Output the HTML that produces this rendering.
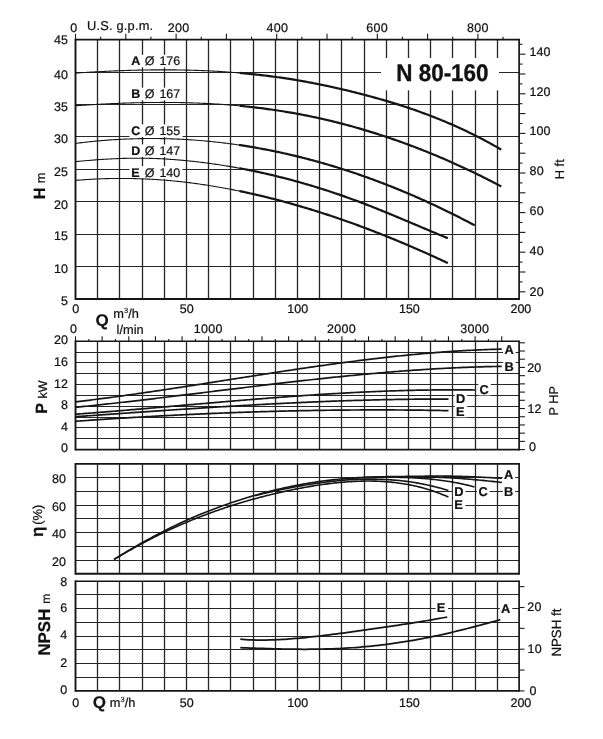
<!DOCTYPE html>
<html><head><meta charset="utf-8"><title>N 80-160</title>
<style>html,body{margin:0;padding:0;background:#fff;}body{width:603px;height:739px;overflow:hidden;font-family:"Liberation Sans",sans-serif;}svg{display:block;}</style>
</head><body>
<svg style="will-change:transform" width="603" height="739" viewBox="0 0 603 739" font-family="Liberation Sans, sans-serif" text-rendering="geometricPrecision">
<rect width="603" height="739" fill="#fff"/>
<line x1="97.50" y1="39.60" x2="97.50" y2="299.00" stroke="#262626" stroke-width="1.3"/>
<line x1="119.50" y1="39.60" x2="119.50" y2="299.00" stroke="#262626" stroke-width="1.3"/>
<line x1="142.50" y1="39.60" x2="142.50" y2="299.00" stroke="#262626" stroke-width="1.3"/>
<line x1="164.50" y1="39.60" x2="164.50" y2="299.00" stroke="#262626" stroke-width="1.3"/>
<line x1="186.50" y1="39.60" x2="186.50" y2="299.00" stroke="#262626" stroke-width="1.3"/>
<line x1="208.50" y1="39.60" x2="208.50" y2="299.00" stroke="#262626" stroke-width="1.3"/>
<line x1="230.50" y1="39.60" x2="230.50" y2="299.00" stroke="#262626" stroke-width="1.3"/>
<line x1="253.50" y1="39.60" x2="253.50" y2="299.00" stroke="#262626" stroke-width="1.3"/>
<line x1="275.50" y1="39.60" x2="275.50" y2="299.00" stroke="#262626" stroke-width="1.3"/>
<line x1="297.50" y1="39.60" x2="297.50" y2="299.00" stroke="#262626" stroke-width="1.3"/>
<line x1="319.50" y1="39.60" x2="319.50" y2="299.00" stroke="#262626" stroke-width="1.3"/>
<line x1="341.50" y1="39.60" x2="341.50" y2="299.00" stroke="#262626" stroke-width="1.3"/>
<line x1="364.50" y1="39.60" x2="364.50" y2="299.00" stroke="#262626" stroke-width="1.3"/>
<line x1="386.50" y1="39.60" x2="386.50" y2="299.00" stroke="#262626" stroke-width="1.3"/>
<line x1="408.50" y1="39.60" x2="408.50" y2="299.00" stroke="#262626" stroke-width="1.3"/>
<line x1="430.50" y1="39.60" x2="430.50" y2="299.00" stroke="#262626" stroke-width="1.3"/>
<line x1="452.50" y1="39.60" x2="452.50" y2="299.00" stroke="#262626" stroke-width="1.3"/>
<line x1="475.50" y1="39.60" x2="475.50" y2="299.00" stroke="#262626" stroke-width="1.3"/>
<line x1="497.50" y1="39.60" x2="497.50" y2="299.00" stroke="#262626" stroke-width="1.3"/>
<line x1="75.50" y1="72.50" x2="519.10" y2="72.50" stroke="#262626" stroke-width="1.1"/>
<line x1="75.50" y1="104.50" x2="519.10" y2="104.50" stroke="#262626" stroke-width="1.1"/>
<line x1="75.50" y1="136.50" x2="519.10" y2="136.50" stroke="#262626" stroke-width="1.1"/>
<line x1="75.50" y1="169.50" x2="519.10" y2="169.50" stroke="#262626" stroke-width="1.1"/>
<line x1="75.50" y1="201.50" x2="519.10" y2="201.50" stroke="#262626" stroke-width="1.1"/>
<line x1="75.50" y1="234.50" x2="519.10" y2="234.50" stroke="#262626" stroke-width="1.1"/>
<line x1="75.50" y1="266.50" x2="519.10" y2="266.50" stroke="#262626" stroke-width="1.1"/>
<rect x="129.50" y="54.80" width="53.00" height="12.60" fill="#fff"/>
<rect x="129.50" y="87.70" width="53.00" height="12.60" fill="#fff"/>
<rect x="129.50" y="124.40" width="53.00" height="12.60" fill="#fff"/>
<rect x="129.50" y="144.40" width="53.00" height="12.60" fill="#fff"/>
<rect x="129.50" y="166.20" width="53.00" height="12.60" fill="#fff"/>
<rect x="381.00" y="58.00" width="118.00" height="32.30" fill="#fff"/>
<path d="M75.50 73.12 L77.14 73.01 L78.79 72.90 L80.43 72.79 L82.08 72.68 L83.72 72.57 L85.36 72.47 L87.01 72.37 L88.65 72.27 L90.30 72.17 L91.94 72.07 L93.58 71.98 L95.23 71.88 L96.87 71.79 L98.52 71.70 L100.16 71.61 L101.80 71.53 L103.45 71.44 L105.09 71.36 L106.74 71.28 L108.38 71.20 L110.02 71.13 L111.67 71.05 L113.31 70.98 L114.96 70.91 L116.60 70.84 L118.24 70.78 L119.89 70.71 L121.53 70.65 L123.18 70.59 L124.82 70.53 L126.46 70.48 L128.11 70.42 L129.75 70.37 L131.40 70.32 L133.04 70.27 L134.68 70.23 L136.33 70.19 L137.97 70.15 L139.62 70.11 L141.26 70.07 L142.90 70.04 L144.55 70.01 L146.19 69.98 L147.84 69.96 L149.48 69.93 L151.12 69.91 L152.77 69.89 L154.41 69.88 L156.06 69.87 L157.70 69.85 L159.34 69.85 L160.99 69.84 L162.63 69.84 L164.28 69.84 L165.92 69.84 L167.56 69.84 L169.21 69.85 L170.85 69.86 L172.50 69.87 L174.14 69.89 L175.78 69.91 L177.43 69.93 L179.07 69.95 L180.72 69.98 L182.36 70.01 L184.01 70.04 L185.65 70.08 L187.29 70.11 L188.94 70.15 L190.58 70.20 L192.23 70.24 L193.87 70.29 L195.51 70.35 L197.16 70.40 L198.80 70.46 L200.45 70.52 L202.09 70.59 L203.73 70.66 L205.38 70.73 L207.02 70.80 L208.67 70.88 L210.31 70.96 L211.95 71.04 L213.60 71.13 L215.24 71.22 L216.89 71.31 L218.53 71.41 L220.17 71.51 L221.82 71.61 L223.46 71.72 L225.11 71.83 L226.75 71.94 L228.39 72.06 L230.04 72.18 L231.68 72.30 L233.33 72.43 L234.97 72.56 L236.61 72.69 L238.26 72.83 L239.90 72.97 L241.55 73.11" fill="none" stroke="#151515" stroke-width="1.1"/>
<path d="M239.90 72.97 L241.55 73.11 L243.19 73.26 L244.83 73.41 L246.48 73.57 L248.12 73.73 L249.77 73.89 L251.41 74.05 L253.05 74.22 L254.70 74.40 L256.34 74.57 L257.99 74.75 L259.63 74.94 L261.27 75.13 L262.92 75.32 L264.56 75.51 L266.21 75.71 L267.85 75.92 L269.49 76.12 L271.14 76.33 L272.78 76.55 L274.43 76.77 L276.07 76.99 L277.71 77.22 L279.36 77.45 L281.00 77.68 L282.65 77.92 L284.29 78.16 L285.93 78.41 L287.58 78.66 L289.22 78.92 L290.87 79.18 L292.51 79.44 L294.15 79.71 L295.80 79.98 L297.44 80.25 L299.09 80.53 L300.73 80.82 L302.37 81.11 L304.02 81.40 L305.66 81.70 L307.31 82.00 L308.95 82.30 L310.59 82.61 L312.24 82.92 L313.88 83.24 L315.53 83.56 L317.17 83.89 L318.81 84.21 L320.46 84.55 L322.10 84.88 L323.75 85.23 L325.39 85.57 L327.03 85.92 L328.68 86.27 L330.32 86.63 L331.97 86.99 L333.61 87.35 L335.25 87.72 L336.90 88.09 L338.54 88.46 L340.19 88.84 L341.83 89.22 L343.47 89.61 L345.12 90.00 L346.76 90.39 L348.41 90.79 L350.05 91.19 L351.69 91.59 L353.34 92.00 L354.98 92.41 L356.63 92.82 L358.27 93.24 L359.91 93.66 L361.56 94.09 L363.20 94.52 L364.85 94.95 L366.49 95.38 L368.13 95.82 L369.78 96.26 L371.42 96.71 L373.07 97.16 L374.71 97.61 L376.35 98.07 L378.00 98.53 L379.64 98.99 L381.29 99.46 L382.93 99.93 L384.57 100.41 L386.22 100.89 L387.86 101.38 L389.51 101.87 L391.15 102.36 L392.79 102.86 L394.44 103.37 L396.08 103.88 L397.73 104.39 L399.37 104.91 L401.02 105.44 L402.66 105.97 L404.30 106.50 L405.95 107.04 L407.59 107.59 L409.24 108.14 L410.88 108.69 L412.52 109.26 L414.17 109.82 L415.81 110.40 L417.46 110.98 L419.10 111.56 L420.74 112.16 L422.39 112.75 L424.03 113.36 L425.68 113.97 L427.32 114.58 L428.96 115.20 L430.61 115.83 L432.25 116.47 L433.90 117.11 L435.54 117.75 L437.18 118.41 L438.83 119.07 L440.47 119.74 L442.12 120.41 L443.76 121.09 L445.40 121.78 L447.05 122.47 L448.69 123.17 L450.34 123.88 L451.98 124.60 L453.62 125.32 L455.27 126.05 L456.91 126.78 L458.56 127.53 L460.20 128.28 L461.84 129.04 L463.49 129.80 L465.13 130.58 L466.78 131.36 L468.42 132.15 L470.06 132.95 L471.71 133.75 L473.35 134.56 L475.00 135.38 L476.64 136.21 L478.28 137.05 L479.93 137.89 L481.57 138.74 L483.22 139.60 L484.86 140.47 L486.50 141.35 L488.15 142.24 L489.79 143.13 L491.44 144.03 L493.08 144.94 L494.72 145.86 L496.37 146.79 L498.01 147.73 L499.66 148.67 L501.30 149.63" fill="none" stroke="#151515" stroke-width="2.2"/>
<path d="M75.50 105.76 L77.14 105.64 L78.79 105.53 L80.43 105.42 L82.08 105.31 L83.72 105.20 L85.36 105.10 L87.01 104.99 L88.65 104.89 L90.30 104.79 L91.94 104.69 L93.58 104.59 L95.23 104.50 L96.87 104.40 L98.52 104.31 L100.16 104.22 L101.80 104.13 L103.45 104.05 L105.09 103.96 L106.74 103.88 L108.38 103.80 L110.02 103.72 L111.67 103.64 L113.31 103.57 L114.96 103.50 L116.60 103.43 L118.24 103.36 L119.89 103.29 L121.53 103.23 L123.18 103.17 L124.82 103.11 L126.46 103.05 L128.11 103.00 L129.75 102.95 L131.40 102.90 L133.04 102.85 L134.68 102.80 L136.33 102.76 L137.97 102.72 L139.62 102.68 L141.26 102.65 L142.90 102.62 L144.55 102.58 L146.19 102.56 L147.84 102.53 L149.48 102.51 L151.12 102.49 L152.77 102.47 L154.41 102.46 L156.06 102.44 L157.70 102.43 L159.34 102.43 L160.99 102.42 L162.63 102.42 L164.28 102.42 L165.92 102.43 L167.56 102.43 L169.21 102.44 L170.85 102.45 L172.50 102.47 L174.14 102.49 L175.78 102.51 L177.43 102.53 L179.07 102.56 L180.72 102.59 L182.36 102.62 L184.01 102.66 L185.65 102.70 L187.29 102.74 L188.94 102.79 L190.58 102.84 L192.23 102.89 L193.87 102.94 L195.51 103.00 L197.16 103.06 L198.80 103.13 L200.45 103.19 L202.09 103.27 L203.73 103.34 L205.38 103.42 L207.02 103.50 L208.67 103.58 L210.31 103.67 L211.95 103.76 L213.60 103.86 L215.24 103.96 L216.89 104.06 L218.53 104.16 L220.17 104.27 L221.82 104.38 L223.46 104.50 L225.11 104.62 L226.75 104.74 L228.39 104.87 L230.04 105.00 L231.68 105.13 L233.33 105.27 L234.97 105.41 L236.61 105.56 L238.26 105.71 L239.90 105.86 L241.55 106.02" fill="none" stroke="#151515" stroke-width="1.1"/>
<path d="M239.90 105.86 L241.55 106.02 L243.19 106.18 L244.83 106.34 L246.48 106.51 L248.12 106.69 L249.77 106.86 L251.41 107.04 L253.05 107.23 L254.70 107.42 L256.34 107.61 L257.99 107.80 L259.63 108.01 L261.27 108.21 L262.92 108.42 L264.56 108.63 L266.21 108.85 L267.85 109.07 L269.49 109.30 L271.14 109.53 L272.78 109.76 L274.43 110.00 L276.07 110.24 L277.71 110.49 L279.36 110.74 L281.00 111.00 L282.65 111.26 L284.29 111.52 L285.93 111.79 L287.58 112.06 L289.22 112.34 L290.87 112.62 L292.51 112.91 L294.15 113.20 L295.80 113.50 L297.44 113.80 L299.09 114.11 L300.73 114.42 L302.37 114.73 L304.02 115.05 L305.66 115.37 L307.31 115.70 L308.95 116.04 L310.59 116.37 L312.24 116.72 L313.88 117.06 L315.53 117.42 L317.17 117.77 L318.81 118.13 L320.46 118.50 L322.10 118.87 L323.75 119.24 L325.39 119.62 L327.03 120.01 L328.68 120.39 L330.32 120.79 L331.97 121.18 L333.61 121.59 L335.25 121.99 L336.90 122.40 L338.54 122.82 L340.19 123.24 L341.83 123.67 L343.47 124.10 L345.12 124.53 L346.76 124.97 L348.41 125.41 L350.05 125.86 L351.69 126.31 L353.34 126.77 L354.98 127.23 L356.63 127.70 L358.27 128.17 L359.91 128.64 L361.56 129.12 L363.20 129.60 L364.85 130.09 L366.49 130.59 L368.13 131.08 L369.78 131.59 L371.42 132.09 L373.07 132.60 L374.71 133.12 L376.35 133.64 L378.00 134.16 L379.64 134.69 L381.29 135.23 L382.93 135.77 L384.57 136.31 L386.22 136.85 L387.86 137.41 L389.51 137.96 L391.15 138.52 L392.79 139.09 L394.44 139.66 L396.08 140.23 L397.73 140.81 L399.37 141.39 L401.02 141.98 L402.66 142.57 L404.30 143.17 L405.95 143.77 L407.59 144.38 L409.24 144.99 L410.88 145.60 L412.52 146.22 L414.17 146.84 L415.81 147.47 L417.46 148.10 L419.10 148.74 L420.74 149.38 L422.39 150.02 L424.03 150.67 L425.68 151.33 L427.32 151.99 L428.96 152.65 L430.61 153.32 L432.25 153.99 L433.90 154.67 L435.54 155.35 L437.18 156.04 L438.83 156.73 L440.47 157.43 L442.12 158.13 L443.76 158.83 L445.40 159.54 L447.05 160.26 L448.69 160.97 L450.34 161.70 L451.98 162.43 L453.62 163.16 L455.27 163.90 L456.91 164.64 L458.56 165.39 L460.20 166.14 L461.84 166.89 L463.49 167.66 L465.13 168.42 L466.78 169.19 L468.42 169.97 L470.06 170.75 L471.71 171.53 L473.35 172.32 L475.00 173.12 L476.64 173.92 L478.28 174.72 L479.93 175.53 L481.57 176.34 L483.22 177.16 L484.86 177.98 L486.50 178.81 L488.15 179.65 L489.79 180.48 L491.44 181.33 L493.08 182.17 L494.72 183.03 L496.37 183.88 L498.01 184.75 L499.66 185.61 L501.30 186.48" fill="none" stroke="#151515" stroke-width="2.2"/>
<path d="M75.50 143.42 L77.04 143.22 L78.58 143.03 L80.12 142.84 L81.67 142.65 L83.21 142.47 L84.75 142.30 L86.29 142.12 L87.83 141.96 L89.37 141.79 L90.91 141.63 L92.45 141.47 L94.00 141.32 L95.54 141.17 L97.08 141.03 L98.62 140.89 L100.16 140.75 L101.70 140.62 L103.24 140.49 L104.78 140.37 L106.33 140.25 L107.87 140.13 L109.41 140.02 L110.95 139.91 L112.49 139.81 L114.03 139.71 L115.57 139.61 L117.12 139.52 L118.66 139.43 L120.20 139.35 L121.74 139.27 L123.28 139.20 L124.82 139.12 L126.36 139.06 L127.90 138.99 L129.45 138.93 L130.99 138.88 L132.53 138.83 L134.07 138.78 L135.61 138.74 L137.15 138.70 L138.69 138.66 L140.24 138.63 L141.78 138.61 L143.32 138.58 L144.86 138.56 L146.40 138.55 L147.94 138.54 L149.48 138.53 L151.02 138.53 L152.57 138.53 L154.11 138.53 L155.65 138.54 L157.19 138.56 L158.73 138.57 L160.27 138.59 L161.81 138.62 L163.35 138.65 L164.90 138.68 L166.44 138.72 L167.98 138.76 L169.52 138.81 L171.06 138.85 L172.60 138.91 L174.14 138.97 L175.69 139.03 L177.23 139.09 L178.77 139.16 L180.31 139.23 L181.85 139.31 L183.39 139.39 L184.93 139.48 L186.47 139.57 L188.02 139.66 L189.56 139.76 L191.10 139.86 L192.64 139.96 L194.18 140.07 L195.72 140.19 L197.26 140.30 L198.81 140.43 L200.35 140.55 L201.89 140.68 L203.43 140.81 L204.97 140.95 L206.51 141.09 L208.05 141.24 L209.59 141.39 L211.14 141.54 L212.68 141.70 L214.22 141.86 L215.76 142.02 L217.30 142.19 L218.84 142.36 L220.38 142.54 L221.92 142.72 L223.47 142.91 L225.01 143.10 L226.55 143.29 L228.09 143.48 L229.63 143.69 L231.17 143.89 L232.71 144.10 L234.26 144.31 L235.80 144.53 L237.34 144.75 L238.88 144.97 L240.42 145.20 L241.96 145.43" fill="none" stroke="#151515" stroke-width="1.1"/>
<path d="M238.88 144.97 L240.42 145.20 L241.96 145.43 L243.50 145.67 L245.04 145.91 L246.59 146.16 L248.13 146.40 L249.67 146.66 L251.21 146.91 L252.75 147.17 L254.29 147.44 L255.83 147.70 L257.37 147.98 L258.92 148.25 L260.46 148.53 L262.00 148.82 L263.54 149.10 L265.08 149.40 L266.62 149.69 L268.16 149.99 L269.71 150.29 L271.25 150.60 L272.79 150.91 L274.33 151.23 L275.87 151.55 L277.41 151.87 L278.95 152.20 L280.49 152.53 L282.04 152.86 L283.58 153.20 L285.12 153.55 L286.66 153.89 L288.20 154.24 L289.74 154.60 L291.28 154.96 L292.83 155.32 L294.37 155.69 L295.91 156.06 L297.45 156.43 L298.99 156.81 L300.53 157.19 L302.07 157.58 L303.61 157.97 L305.16 158.36 L306.70 158.76 L308.24 159.16 L309.78 159.57 L311.32 159.97 L312.86 160.39 L314.40 160.81 L315.94 161.23 L317.49 161.65 L319.03 162.08 L320.57 162.51 L322.11 162.95 L323.65 163.39 L325.19 163.84 L326.73 164.28 L328.28 164.74 L329.82 165.19 L331.36 165.65 L332.90 166.12 L334.44 166.59 L335.98 167.06 L337.52 167.53 L339.06 168.01 L340.61 168.50 L342.15 168.98 L343.69 169.48 L345.23 169.97 L346.77 170.47 L348.31 170.97 L349.85 171.48 L351.39 171.99 L352.94 172.51 L354.48 173.03 L356.02 173.55 L357.56 174.07 L359.10 174.60 L360.64 175.14 L362.18 175.68 L363.73 176.22 L365.27 176.76 L366.81 177.31 L368.35 177.87 L369.89 178.42 L371.43 178.99 L372.97 179.55 L374.51 180.12 L376.06 180.69 L377.60 181.27 L379.14 181.85 L380.68 182.43 L382.22 183.02 L383.76 183.61 L385.30 184.21 L386.85 184.81 L388.39 185.41 L389.93 186.02 L391.47 186.63 L393.01 187.25 L394.55 187.87 L396.09 188.49 L397.63 189.12 L399.18 189.75 L400.72 190.38 L402.26 191.02 L403.80 191.66 L405.34 192.31 L406.88 192.96 L408.42 193.61 L409.96 194.27 L411.51 194.93 L413.05 195.60 L414.59 196.27 L416.13 196.94 L417.67 197.62 L419.21 198.30 L420.75 198.98 L422.30 199.67 L423.84 200.36 L425.38 201.06 L426.92 201.76 L428.46 202.46 L430.00 203.17 L431.54 203.88 L433.08 204.60 L434.63 205.32 L436.17 206.04 L437.71 206.77 L439.25 207.50 L440.79 208.23 L442.33 208.97 L443.87 209.71 L445.42 210.46 L446.96 211.21 L448.50 211.96 L450.04 212.72 L451.58 213.48 L453.12 214.24 L454.66 215.01 L456.20 215.78 L457.75 216.56 L459.29 217.34 L460.83 218.13 L462.37 218.91 L463.91 219.70 L465.45 220.50 L466.99 221.30 L468.53 222.10 L470.08 222.91 L471.62 223.72 L473.16 224.53 L474.70 225.35" fill="none" stroke="#151515" stroke-width="2.2"/>
<path d="M75.50 161.60 L76.94 161.46 L78.37 161.33 L79.81 161.19 L81.25 161.06 L82.69 160.94 L84.12 160.81 L85.56 160.69 L87.00 160.56 L88.44 160.44 L89.87 160.33 L91.31 160.21 L92.75 160.10 L94.19 159.99 L95.62 159.88 L97.06 159.78 L98.50 159.67 L99.94 159.57 L101.37 159.48 L102.81 159.38 L104.25 159.29 L105.69 159.21 L107.12 159.12 L108.56 159.04 L110.00 158.96 L111.44 158.89 L112.87 158.82 L114.31 158.75 L115.75 158.68 L117.19 158.62 L118.62 158.57 L120.06 158.51 L121.50 158.46 L122.94 158.42 L124.37 158.38 L125.81 158.34 L127.25 158.30 L128.69 158.27 L130.12 158.25 L131.56 158.23 L133.00 158.21 L134.44 158.19 L135.87 158.19 L137.31 158.18 L138.75 158.18 L140.19 158.19 L141.62 158.20 L143.06 158.21 L144.50 158.23 L145.94 158.25 L147.37 158.28 L148.81 158.32 L150.25 158.35 L151.68 158.40 L153.12 158.44 L154.56 158.49 L156.00 158.55 L157.43 158.61 L158.87 158.67 L160.31 158.74 L161.75 158.81 L163.18 158.89 L164.62 158.97 L166.06 159.06 L167.50 159.15 L168.93 159.24 L170.37 159.34 L171.81 159.44 L173.25 159.54 L174.68 159.65 L176.12 159.76 L177.56 159.88 L179.00 160.00 L180.43 160.12 L181.87 160.25 L183.31 160.38 L184.75 160.52 L186.18 160.66 L187.62 160.80 L189.06 160.94 L190.50 161.09 L191.93 161.24 L193.37 161.40 L194.81 161.56 L196.25 161.72 L197.68 161.89 L199.12 162.06 L200.56 162.23 L202.00 162.40 L203.43 162.58 L204.87 162.77 L206.31 162.95 L207.75 163.14 L209.18 163.34 L210.62 163.53 L212.06 163.74 L213.50 163.94 L214.93 164.15 L216.37 164.36 L217.81 164.57 L219.25 164.79 L220.68 165.01 L222.12 165.23 L223.56 165.46 L224.99 165.69 L226.43 165.93 L227.87 166.16 L229.31 166.41 L230.74 166.65 L232.18 166.90 L233.62 167.15 L235.06 167.40 L236.49 167.66 L237.93 167.92 L239.37 168.19 L240.81 168.46 L242.24 168.73" fill="none" stroke="#151515" stroke-width="1.1"/>
<path d="M239.37 168.19 L240.81 168.46 L242.24 168.73 L243.68 169.00 L245.12 169.28 L246.56 169.56 L247.99 169.85 L249.43 170.13 L250.87 170.43 L252.31 170.72 L253.74 171.02 L255.18 171.32 L256.62 171.63 L258.06 171.93 L259.49 172.24 L260.93 172.56 L262.37 172.88 L263.81 173.20 L265.24 173.52 L266.68 173.85 L268.12 174.18 L269.56 174.52 L270.99 174.85 L272.43 175.19 L273.87 175.54 L275.31 175.89 L276.74 176.24 L278.18 176.59 L279.62 176.95 L281.06 177.31 L282.49 177.67 L283.93 178.04 L285.37 178.41 L286.81 178.78 L288.24 179.16 L289.68 179.54 L291.12 179.92 L292.56 180.31 L293.99 180.70 L295.43 181.09 L296.87 181.49 L298.31 181.89 L299.74 182.29 L301.18 182.70 L302.62 183.11 L304.05 183.52 L305.49 183.94 L306.93 184.36 L308.37 184.78 L309.80 185.21 L311.24 185.64 L312.68 186.07 L314.12 186.50 L315.55 186.94 L316.99 187.38 L318.43 187.83 L319.87 188.28 L321.30 188.73 L322.74 189.18 L324.18 189.64 L325.62 190.10 L327.05 190.57 L328.49 191.04 L329.93 191.51 L331.37 191.98 L332.80 192.46 L334.24 192.94 L335.68 193.43 L337.12 193.91 L338.55 194.41 L339.99 194.90 L341.43 195.40 L342.87 195.90 L344.30 196.40 L345.74 196.91 L347.18 197.42 L348.62 197.93 L350.05 198.45 L351.49 198.97 L352.93 199.49 L354.37 200.02 L355.80 200.55 L357.24 201.08 L358.68 201.62 L360.12 202.16 L361.55 202.70 L362.99 203.25 L364.43 203.80 L365.87 204.35 L367.30 204.90 L368.74 205.46 L370.18 206.02 L371.62 206.59 L373.05 207.16 L374.49 207.72 L375.93 208.30 L377.36 208.87 L378.80 209.45 L380.24 210.03 L381.68 210.61 L383.11 211.20 L384.55 211.78 L385.99 212.37 L387.43 212.96 L388.86 213.55 L390.30 214.14 L391.74 214.74 L393.18 215.33 L394.61 215.93 L396.05 216.53 L397.49 217.13 L398.93 217.73 L400.36 218.33 L401.80 218.94 L403.24 219.54 L404.68 220.15 L406.11 220.75 L407.55 221.36 L408.99 221.97 L410.43 222.57 L411.86 223.18 L413.30 223.79 L414.74 224.39 L416.18 225.00 L417.61 225.61 L419.05 226.22 L420.49 226.82 L421.93 227.43 L423.36 228.04 L424.80 228.64 L426.24 229.25 L427.68 229.85 L429.11 230.46 L430.55 231.06 L431.99 231.66 L433.43 232.26 L434.86 232.86 L436.30 233.46 L437.74 234.06 L439.18 234.65 L440.61 235.25 L442.05 235.84 L443.49 236.43 L444.93 237.02 L446.36 237.61 L447.80 238.19" fill="none" stroke="#151515" stroke-width="2.2"/>
<path d="M75.50 180.41 L76.94 180.29 L78.38 180.17 L79.81 180.05 L81.25 179.94 L82.69 179.84 L84.13 179.74 L85.56 179.64 L87.00 179.54 L88.44 179.45 L89.88 179.37 L91.32 179.28 L92.75 179.21 L94.19 179.13 L95.63 179.06 L97.07 178.99 L98.51 178.93 L99.94 178.87 L101.38 178.82 L102.82 178.76 L104.26 178.72 L105.69 178.67 L107.13 178.63 L108.57 178.60 L110.01 178.56 L111.45 178.54 L112.88 178.51 L114.32 178.49 L115.76 178.47 L117.20 178.46 L118.64 178.45 L120.07 178.45 L121.51 178.45 L122.95 178.45 L124.39 178.45 L125.82 178.46 L127.26 178.48 L128.70 178.50 L130.14 178.52 L131.58 178.54 L133.01 178.57 L134.45 178.61 L135.89 178.64 L137.33 178.68 L138.76 178.73 L140.20 178.78 L141.64 178.83 L143.08 178.88 L144.52 178.94 L145.95 179.01 L147.39 179.08 L148.83 179.15 L150.27 179.22 L151.71 179.30 L153.14 179.38 L154.58 179.47 L156.02 179.56 L157.46 179.65 L158.89 179.75 L160.33 179.85 L161.77 179.96 L163.21 180.07 L164.65 180.18 L166.08 180.30 L167.52 180.42 L168.96 180.54 L170.40 180.67 L171.84 180.80 L173.27 180.93 L174.71 181.07 L176.15 181.22 L177.59 181.36 L179.02 181.51 L180.46 181.67 L181.90 181.82 L183.34 181.99 L184.78 182.15 L186.21 182.32 L187.65 182.49 L189.09 182.67 L190.53 182.85 L191.96 183.03 L193.40 183.22 L194.84 183.41 L196.28 183.61 L197.72 183.80 L199.15 184.01 L200.59 184.21 L202.03 184.42 L203.47 184.63 L204.91 184.85 L206.34 185.07 L207.78 185.29 L209.22 185.52 L210.66 185.75 L212.09 185.98 L213.53 186.22 L214.97 186.46 L216.41 186.70 L217.85 186.95 L219.28 187.20 L220.72 187.45 L222.16 187.71 L223.60 187.97 L225.04 188.23 L226.47 188.50 L227.91 188.77 L229.35 189.04 L230.79 189.32 L232.22 189.60 L233.66 189.88 L235.10 190.17 L236.54 190.46 L237.98 190.75 L239.41 191.04 L240.85 191.34 L242.29 191.64" fill="none" stroke="#151515" stroke-width="1.1"/>
<path d="M239.41 191.04 L240.85 191.34 L242.29 191.64 L243.73 191.95 L245.16 192.26 L246.60 192.57 L248.04 192.88 L249.48 193.20 L250.92 193.52 L252.35 193.84 L253.79 194.17 L255.23 194.50 L256.67 194.83 L258.11 195.17 L259.54 195.50 L260.98 195.84 L262.42 196.19 L263.86 196.54 L265.29 196.89 L266.73 197.24 L268.17 197.60 L269.61 197.95 L271.05 198.32 L272.48 198.68 L273.92 199.05 L275.36 199.42 L276.80 199.79 L278.24 200.17 L279.67 200.55 L281.11 200.93 L282.55 201.31 L283.99 201.70 L285.42 202.09 L286.86 202.49 L288.30 202.88 L289.74 203.28 L291.18 203.68 L292.61 204.09 L294.05 204.50 L295.49 204.91 L296.93 205.32 L298.36 205.73 L299.80 206.15 L301.24 206.57 L302.68 207.00 L304.12 207.43 L305.55 207.86 L306.99 208.29 L308.43 208.72 L309.87 209.16 L311.31 209.60 L312.74 210.04 L314.18 210.49 L315.62 210.94 L317.06 211.39 L318.49 211.85 L319.93 212.30 L321.37 212.76 L322.81 213.22 L324.25 213.69 L325.68 214.16 L327.12 214.63 L328.56 215.10 L330.00 215.58 L331.44 216.05 L332.87 216.54 L334.31 217.02 L335.75 217.51 L337.19 217.99 L338.62 218.49 L340.06 218.98 L341.50 219.48 L342.94 219.98 L344.38 220.48 L345.81 220.98 L347.25 221.49 L348.69 222.00 L350.13 222.51 L351.56 223.03 L353.00 223.54 L354.44 224.06 L355.88 224.59 L357.32 225.11 L358.75 225.64 L360.19 226.17 L361.63 226.70 L363.07 227.24 L364.51 227.78 L365.94 228.32 L367.38 228.86 L368.82 229.40 L370.26 229.95 L371.69 230.50 L373.13 231.05 L374.57 231.61 L376.01 232.17 L377.45 232.73 L378.88 233.29 L380.32 233.86 L381.76 234.42 L383.20 234.99 L384.64 235.57 L386.07 236.14 L387.51 236.72 L388.95 237.30 L390.39 237.88 L391.82 238.46 L393.26 239.05 L394.70 239.64 L396.14 240.23 L397.58 240.83 L399.01 241.42 L400.45 242.02 L401.89 242.62 L403.33 243.23 L404.76 243.83 L406.20 244.44 L407.64 245.05 L409.08 245.66 L410.52 246.28 L411.95 246.90 L413.39 247.52 L414.83 248.14 L416.27 248.76 L417.71 249.39 L419.14 250.02 L420.58 250.65 L422.02 251.29 L423.46 251.92 L424.89 252.56 L426.33 253.20 L427.77 253.84 L429.21 254.49 L430.65 255.14 L432.08 255.79 L433.52 256.44 L434.96 257.09 L436.40 257.75 L437.84 258.41 L439.27 259.07 L440.71 259.73 L442.15 260.40 L443.59 261.06 L445.02 261.73 L446.46 262.40 L447.90 263.08" fill="none" stroke="#151515" stroke-width="2.2"/>
<line x1="75.50" y1="38.80" x2="75.50" y2="299.90" stroke="#151515" stroke-width="1.9"/>
<line x1="519.10" y1="38.80" x2="519.10" y2="299.90" stroke="#151515" stroke-width="1.7"/>
<line x1="75.50" y1="39.60" x2="519.10" y2="39.60" stroke="#151515" stroke-width="1.6"/>
<line x1="75.50" y1="299.00" x2="519.10" y2="299.00" stroke="#151515" stroke-width="1.9"/>
<text x="131.20" y="65.40" font-size="12.5" text-anchor="start" font-weight="bold" fill="#111" stroke="#111" stroke-width="0.22" font-family="Liberation Sans, sans-serif" >A</text>
<text x="144.70" y="65.40" font-size="12.5" text-anchor="start" font-weight="normal" fill="#111" stroke="#111" stroke-width="0.22" font-family="Liberation Sans, sans-serif" >&#216;</text>
<text x="159.40" y="65.40" font-size="12.5" text-anchor="start" font-weight="normal" fill="#111" stroke="#111" stroke-width="0.22" font-family="Liberation Sans, sans-serif" >176</text>
<text x="131.20" y="98.30" font-size="12.5" text-anchor="start" font-weight="bold" fill="#111" stroke="#111" stroke-width="0.22" font-family="Liberation Sans, sans-serif" >B</text>
<text x="144.70" y="98.30" font-size="12.5" text-anchor="start" font-weight="normal" fill="#111" stroke="#111" stroke-width="0.22" font-family="Liberation Sans, sans-serif" >&#216;</text>
<text x="159.40" y="98.30" font-size="12.5" text-anchor="start" font-weight="normal" fill="#111" stroke="#111" stroke-width="0.22" font-family="Liberation Sans, sans-serif" >167</text>
<text x="131.20" y="135.00" font-size="12.5" text-anchor="start" font-weight="bold" fill="#111" stroke="#111" stroke-width="0.22" font-family="Liberation Sans, sans-serif" >C</text>
<text x="144.70" y="135.00" font-size="12.5" text-anchor="start" font-weight="normal" fill="#111" stroke="#111" stroke-width="0.22" font-family="Liberation Sans, sans-serif" >&#216;</text>
<text x="159.40" y="135.00" font-size="12.5" text-anchor="start" font-weight="normal" fill="#111" stroke="#111" stroke-width="0.22" font-family="Liberation Sans, sans-serif" >155</text>
<text x="131.20" y="155.00" font-size="12.5" text-anchor="start" font-weight="bold" fill="#111" stroke="#111" stroke-width="0.22" font-family="Liberation Sans, sans-serif" >D</text>
<text x="144.70" y="155.00" font-size="12.5" text-anchor="start" font-weight="normal" fill="#111" stroke="#111" stroke-width="0.22" font-family="Liberation Sans, sans-serif" >&#216;</text>
<text x="159.40" y="155.00" font-size="12.5" text-anchor="start" font-weight="normal" fill="#111" stroke="#111" stroke-width="0.22" font-family="Liberation Sans, sans-serif" >147</text>
<text x="131.20" y="176.80" font-size="12.5" text-anchor="start" font-weight="bold" fill="#111" stroke="#111" stroke-width="0.22" font-family="Liberation Sans, sans-serif" >E</text>
<text x="144.70" y="176.80" font-size="12.5" text-anchor="start" font-weight="normal" fill="#111" stroke="#111" stroke-width="0.22" font-family="Liberation Sans, sans-serif" >&#216;</text>
<text x="159.40" y="176.80" font-size="12.5" text-anchor="start" font-weight="normal" fill="#111" stroke="#111" stroke-width="0.22" font-family="Liberation Sans, sans-serif" >140</text>
<text x="396.2" y="81.3" font-size="24" font-weight="bold" fill="#111" stroke="#111" stroke-width="0.35" font-family="Liberation Sans, sans-serif" textLength="92.4" lengthAdjust="spacingAndGlyphs">N 80-160</text>
<text x="67.90" y="44.20" font-size="12.5" text-anchor="end" font-weight="normal" fill="#111" stroke="#111" stroke-width="0.22" font-family="Liberation Sans, sans-serif" >45</text>
<text x="67.90" y="78.50" font-size="12.5" text-anchor="end" font-weight="normal" fill="#111" stroke="#111" stroke-width="0.22" font-family="Liberation Sans, sans-serif" >40</text>
<text x="67.90" y="111.30" font-size="12.5" text-anchor="end" font-weight="normal" fill="#111" stroke="#111" stroke-width="0.22" font-family="Liberation Sans, sans-serif" >35</text>
<text x="67.90" y="143.30" font-size="12.5" text-anchor="end" font-weight="normal" fill="#111" stroke="#111" stroke-width="0.22" font-family="Liberation Sans, sans-serif" >30</text>
<text x="67.90" y="176.20" font-size="12.5" text-anchor="end" font-weight="normal" fill="#111" stroke="#111" stroke-width="0.22" font-family="Liberation Sans, sans-serif" >25</text>
<text x="67.90" y="208.60" font-size="12.5" text-anchor="end" font-weight="normal" fill="#111" stroke="#111" stroke-width="0.22" font-family="Liberation Sans, sans-serif" >20</text>
<text x="67.90" y="240.40" font-size="12.5" text-anchor="end" font-weight="normal" fill="#111" stroke="#111" stroke-width="0.22" font-family="Liberation Sans, sans-serif" >15</text>
<text x="67.90" y="273.10" font-size="12.5" text-anchor="end" font-weight="normal" fill="#111" stroke="#111" stroke-width="0.22" font-family="Liberation Sans, sans-serif" >10</text>
<text x="67.90" y="305.20" font-size="12.5" text-anchor="end" font-weight="normal" fill="#111" stroke="#111" stroke-width="0.22" font-family="Liberation Sans, sans-serif" >5</text>
<text transform="translate(45.20 199.20) rotate(-90)" fill="#111" stroke="#111" stroke-width="0.22" font-family="Liberation Sans, sans-serif" xml:space="preserve"><tspan font-size="16.2" font-weight="bold" dx="0" dy="0">H</tspan><tspan font-size="12.8" font-weight="normal" dx="4.3" dy="0">m</tspan></text>
<line x1="75.50" y1="33.80" x2="75.50" y2="39.60" stroke="#1a1a1a" stroke-width="1.1"/>
<line x1="100.65" y1="36.80" x2="100.65" y2="39.60" stroke="#1a1a1a" stroke-width="1.1"/>
<line x1="125.80" y1="33.80" x2="125.80" y2="39.60" stroke="#1a1a1a" stroke-width="1.1"/>
<line x1="150.95" y1="36.80" x2="150.95" y2="39.60" stroke="#1a1a1a" stroke-width="1.1"/>
<line x1="176.10" y1="33.80" x2="176.10" y2="39.60" stroke="#1a1a1a" stroke-width="1.1"/>
<line x1="201.25" y1="36.80" x2="201.25" y2="39.60" stroke="#1a1a1a" stroke-width="1.1"/>
<line x1="226.40" y1="33.80" x2="226.40" y2="39.60" stroke="#1a1a1a" stroke-width="1.1"/>
<line x1="251.55" y1="36.80" x2="251.55" y2="39.60" stroke="#1a1a1a" stroke-width="1.1"/>
<line x1="276.70" y1="33.80" x2="276.70" y2="39.60" stroke="#1a1a1a" stroke-width="1.1"/>
<line x1="301.85" y1="36.80" x2="301.85" y2="39.60" stroke="#1a1a1a" stroke-width="1.1"/>
<line x1="327.00" y1="33.80" x2="327.00" y2="39.60" stroke="#1a1a1a" stroke-width="1.1"/>
<line x1="352.15" y1="36.80" x2="352.15" y2="39.60" stroke="#1a1a1a" stroke-width="1.1"/>
<line x1="377.30" y1="33.80" x2="377.30" y2="39.60" stroke="#1a1a1a" stroke-width="1.1"/>
<line x1="402.45" y1="36.80" x2="402.45" y2="39.60" stroke="#1a1a1a" stroke-width="1.1"/>
<line x1="427.60" y1="33.80" x2="427.60" y2="39.60" stroke="#1a1a1a" stroke-width="1.1"/>
<line x1="452.75" y1="36.80" x2="452.75" y2="39.60" stroke="#1a1a1a" stroke-width="1.1"/>
<line x1="477.90" y1="33.80" x2="477.90" y2="39.60" stroke="#1a1a1a" stroke-width="1.1"/>
<line x1="503.05" y1="36.80" x2="503.05" y2="39.60" stroke="#1a1a1a" stroke-width="1.1"/>
<text x="73.80" y="32.20" font-size="12.5" text-anchor="middle" font-weight="normal" fill="#111" stroke="#111" stroke-width="0.22" font-family="Liberation Sans, sans-serif" >0</text>
<text x="178.70" y="32.20" font-size="12.5" text-anchor="middle" font-weight="normal" fill="#111" stroke="#111" stroke-width="0.22" font-family="Liberation Sans, sans-serif" letter-spacing="0.3">200</text>
<text x="277.40" y="32.20" font-size="12.5" text-anchor="middle" font-weight="normal" fill="#111" stroke="#111" stroke-width="0.22" font-family="Liberation Sans, sans-serif" letter-spacing="0.3">400</text>
<text x="377.20" y="32.20" font-size="12.5" text-anchor="middle" font-weight="normal" fill="#111" stroke="#111" stroke-width="0.22" font-family="Liberation Sans, sans-serif" letter-spacing="0.3">600</text>
<text x="478.00" y="32.20" font-size="12.5" text-anchor="middle" font-weight="normal" fill="#111" stroke="#111" stroke-width="0.22" font-family="Liberation Sans, sans-serif" letter-spacing="0.3">800</text>
<text x="87.10" y="30.30" font-size="12.8" text-anchor="start" font-weight="normal" fill="#111" stroke="#111" stroke-width="0.22" font-family="Liberation Sans, sans-serif" letter-spacing="0.2">U.S. g.p.m.</text>
<line x1="519.10" y1="291.80" x2="525.40" y2="291.80" stroke="#1a1a1a" stroke-width="1.1"/>
<line x1="519.10" y1="281.90" x2="522.50" y2="281.90" stroke="#1a1a1a" stroke-width="1.1"/>
<line x1="519.10" y1="272.00" x2="525.40" y2="272.00" stroke="#1a1a1a" stroke-width="1.1"/>
<line x1="519.10" y1="262.10" x2="522.50" y2="262.10" stroke="#1a1a1a" stroke-width="1.1"/>
<line x1="519.10" y1="252.20" x2="525.40" y2="252.20" stroke="#1a1a1a" stroke-width="1.1"/>
<line x1="519.10" y1="242.30" x2="522.50" y2="242.30" stroke="#1a1a1a" stroke-width="1.1"/>
<line x1="519.10" y1="232.40" x2="525.40" y2="232.40" stroke="#1a1a1a" stroke-width="1.1"/>
<line x1="519.10" y1="222.50" x2="522.50" y2="222.50" stroke="#1a1a1a" stroke-width="1.1"/>
<line x1="519.10" y1="212.60" x2="525.40" y2="212.60" stroke="#1a1a1a" stroke-width="1.1"/>
<line x1="519.10" y1="202.70" x2="522.50" y2="202.70" stroke="#1a1a1a" stroke-width="1.1"/>
<line x1="519.10" y1="192.80" x2="525.40" y2="192.80" stroke="#1a1a1a" stroke-width="1.1"/>
<line x1="519.10" y1="182.90" x2="522.50" y2="182.90" stroke="#1a1a1a" stroke-width="1.1"/>
<line x1="519.10" y1="173.00" x2="525.40" y2="173.00" stroke="#1a1a1a" stroke-width="1.1"/>
<line x1="519.10" y1="163.10" x2="522.50" y2="163.10" stroke="#1a1a1a" stroke-width="1.1"/>
<line x1="519.10" y1="153.20" x2="525.40" y2="153.20" stroke="#1a1a1a" stroke-width="1.1"/>
<line x1="519.10" y1="143.30" x2="522.50" y2="143.30" stroke="#1a1a1a" stroke-width="1.1"/>
<line x1="519.10" y1="133.40" x2="525.40" y2="133.40" stroke="#1a1a1a" stroke-width="1.1"/>
<line x1="519.10" y1="123.50" x2="522.50" y2="123.50" stroke="#1a1a1a" stroke-width="1.1"/>
<line x1="519.10" y1="113.60" x2="525.40" y2="113.60" stroke="#1a1a1a" stroke-width="1.1"/>
<line x1="519.10" y1="103.70" x2="522.50" y2="103.70" stroke="#1a1a1a" stroke-width="1.1"/>
<line x1="519.10" y1="93.80" x2="525.40" y2="93.80" stroke="#1a1a1a" stroke-width="1.1"/>
<line x1="519.10" y1="83.90" x2="522.50" y2="83.90" stroke="#1a1a1a" stroke-width="1.1"/>
<line x1="519.10" y1="74.00" x2="525.40" y2="74.00" stroke="#1a1a1a" stroke-width="1.1"/>
<line x1="519.10" y1="64.10" x2="522.50" y2="64.10" stroke="#1a1a1a" stroke-width="1.1"/>
<line x1="519.10" y1="54.20" x2="525.40" y2="54.20" stroke="#1a1a1a" stroke-width="1.1"/>
<line x1="519.10" y1="44.30" x2="522.50" y2="44.30" stroke="#1a1a1a" stroke-width="1.1"/>
<text x="529.40" y="56.30" font-size="12.5" text-anchor="start" font-weight="normal" fill="#111" stroke="#111" stroke-width="0.22" font-family="Liberation Sans, sans-serif" letter-spacing="0.1">140</text>
<text x="529.40" y="95.50" font-size="12.5" text-anchor="start" font-weight="normal" fill="#111" stroke="#111" stroke-width="0.22" font-family="Liberation Sans, sans-serif" letter-spacing="0.1">120</text>
<text x="529.40" y="135.20" font-size="12.5" text-anchor="start" font-weight="normal" fill="#111" stroke="#111" stroke-width="0.22" font-family="Liberation Sans, sans-serif" letter-spacing="0.1">100</text>
<text x="529.40" y="175.10" font-size="12.5" text-anchor="start" font-weight="normal" fill="#111" stroke="#111" stroke-width="0.22" font-family="Liberation Sans, sans-serif" letter-spacing="0.3">80</text>
<text x="529.40" y="215.40" font-size="12.5" text-anchor="start" font-weight="normal" fill="#111" stroke="#111" stroke-width="0.22" font-family="Liberation Sans, sans-serif" letter-spacing="0.3">60</text>
<text x="529.40" y="255.00" font-size="12.5" text-anchor="start" font-weight="normal" fill="#111" stroke="#111" stroke-width="0.22" font-family="Liberation Sans, sans-serif" letter-spacing="0.3">40</text>
<text x="529.40" y="296.10" font-size="12.5" text-anchor="start" font-weight="normal" fill="#111" stroke="#111" stroke-width="0.22" font-family="Liberation Sans, sans-serif" letter-spacing="0.3">20</text>
<text transform="translate(564.20 179.20) rotate(-90)" fill="#111" stroke="#111" stroke-width="0.22" font-family="Liberation Sans, sans-serif" xml:space="preserve"><tspan font-size="12.8" font-weight="normal" dx="0" dy="0">H ft</tspan></text>
<text x="75.80" y="313.00" font-size="12.5" text-anchor="middle" font-weight="normal" fill="#111" stroke="#111" stroke-width="0.22" font-family="Liberation Sans, sans-serif" >0</text>
<text x="186.80" y="313.00" font-size="12.5" text-anchor="middle" font-weight="normal" fill="#111" stroke="#111" stroke-width="0.22" font-family="Liberation Sans, sans-serif" >50</text>
<text x="297.80" y="313.00" font-size="12.5" text-anchor="middle" font-weight="normal" fill="#111" stroke="#111" stroke-width="0.22" font-family="Liberation Sans, sans-serif" >100</text>
<text x="409.40" y="313.00" font-size="12.5" text-anchor="middle" font-weight="normal" fill="#111" stroke="#111" stroke-width="0.22" font-family="Liberation Sans, sans-serif" >150</text>
<text x="520.90" y="313.00" font-size="12.5" text-anchor="middle" font-weight="normal" fill="#111" stroke="#111" stroke-width="0.22" font-family="Liberation Sans, sans-serif" >200</text>
<text x="95.50" y="326.30" font-size="17" text-anchor="start" font-weight="bold" fill="#111" stroke="#111" stroke-width="0.22" font-family="Liberation Sans, sans-serif" >Q</text>
<text x="113.3" y="318.2" font-size="12.8" fill="#111" stroke="#111" stroke-width="0.22" font-family="Liberation Sans, sans-serif">m<tspan font-size="7.5" dy="-4.8" stroke-width="0.1">3</tspan><tspan dy="4.8">/h</tspan></text>
<text x="116.60" y="334.20" font-size="12.8" text-anchor="start" font-weight="normal" fill="#111" stroke="#111" stroke-width="0.22" font-family="Liberation Sans, sans-serif" >l/min</text>
<line x1="75.50" y1="336.30" x2="75.50" y2="341.30" stroke="#1a1a1a" stroke-width="1.1"/>
<line x1="88.82" y1="338.90" x2="88.82" y2="341.30" stroke="#1a1a1a" stroke-width="1.1"/>
<line x1="102.14" y1="336.30" x2="102.14" y2="341.30" stroke="#1a1a1a" stroke-width="1.1"/>
<line x1="115.46" y1="338.90" x2="115.46" y2="341.30" stroke="#1a1a1a" stroke-width="1.1"/>
<line x1="128.78" y1="336.30" x2="128.78" y2="341.30" stroke="#1a1a1a" stroke-width="1.1"/>
<line x1="142.10" y1="338.90" x2="142.10" y2="341.30" stroke="#1a1a1a" stroke-width="1.1"/>
<line x1="155.42" y1="336.30" x2="155.42" y2="341.30" stroke="#1a1a1a" stroke-width="1.1"/>
<line x1="168.74" y1="338.90" x2="168.74" y2="341.30" stroke="#1a1a1a" stroke-width="1.1"/>
<line x1="182.06" y1="336.30" x2="182.06" y2="341.30" stroke="#1a1a1a" stroke-width="1.1"/>
<line x1="195.38" y1="338.90" x2="195.38" y2="341.30" stroke="#1a1a1a" stroke-width="1.1"/>
<line x1="208.70" y1="336.30" x2="208.70" y2="341.30" stroke="#1a1a1a" stroke-width="1.1"/>
<line x1="222.02" y1="338.90" x2="222.02" y2="341.30" stroke="#1a1a1a" stroke-width="1.1"/>
<line x1="235.34" y1="336.30" x2="235.34" y2="341.30" stroke="#1a1a1a" stroke-width="1.1"/>
<line x1="248.66" y1="338.90" x2="248.66" y2="341.30" stroke="#1a1a1a" stroke-width="1.1"/>
<line x1="261.98" y1="336.30" x2="261.98" y2="341.30" stroke="#1a1a1a" stroke-width="1.1"/>
<line x1="275.30" y1="338.90" x2="275.30" y2="341.30" stroke="#1a1a1a" stroke-width="1.1"/>
<line x1="288.62" y1="336.30" x2="288.62" y2="341.30" stroke="#1a1a1a" stroke-width="1.1"/>
<line x1="301.94" y1="338.90" x2="301.94" y2="341.30" stroke="#1a1a1a" stroke-width="1.1"/>
<line x1="315.26" y1="336.30" x2="315.26" y2="341.30" stroke="#1a1a1a" stroke-width="1.1"/>
<line x1="328.58" y1="338.90" x2="328.58" y2="341.30" stroke="#1a1a1a" stroke-width="1.1"/>
<line x1="341.90" y1="336.30" x2="341.90" y2="341.30" stroke="#1a1a1a" stroke-width="1.1"/>
<line x1="355.22" y1="338.90" x2="355.22" y2="341.30" stroke="#1a1a1a" stroke-width="1.1"/>
<line x1="368.54" y1="336.30" x2="368.54" y2="341.30" stroke="#1a1a1a" stroke-width="1.1"/>
<line x1="381.86" y1="338.90" x2="381.86" y2="341.30" stroke="#1a1a1a" stroke-width="1.1"/>
<line x1="395.18" y1="336.30" x2="395.18" y2="341.30" stroke="#1a1a1a" stroke-width="1.1"/>
<line x1="408.50" y1="338.90" x2="408.50" y2="341.30" stroke="#1a1a1a" stroke-width="1.1"/>
<line x1="421.82" y1="336.30" x2="421.82" y2="341.30" stroke="#1a1a1a" stroke-width="1.1"/>
<line x1="435.14" y1="338.90" x2="435.14" y2="341.30" stroke="#1a1a1a" stroke-width="1.1"/>
<line x1="448.46" y1="336.30" x2="448.46" y2="341.30" stroke="#1a1a1a" stroke-width="1.1"/>
<line x1="461.78" y1="338.90" x2="461.78" y2="341.30" stroke="#1a1a1a" stroke-width="1.1"/>
<line x1="475.10" y1="336.30" x2="475.10" y2="341.30" stroke="#1a1a1a" stroke-width="1.1"/>
<line x1="488.42" y1="338.90" x2="488.42" y2="341.30" stroke="#1a1a1a" stroke-width="1.1"/>
<line x1="501.74" y1="336.30" x2="501.74" y2="341.30" stroke="#1a1a1a" stroke-width="1.1"/>
<text x="73.60" y="333.00" font-size="12.5" text-anchor="middle" font-weight="normal" fill="#111" stroke="#111" stroke-width="0.22" font-family="Liberation Sans, sans-serif" >0</text>
<text x="208.30" y="333.00" font-size="12.5" text-anchor="middle" font-weight="normal" fill="#111" stroke="#111" stroke-width="0.22" font-family="Liberation Sans, sans-serif" letter-spacing="0.3">1000</text>
<text x="341.50" y="333.00" font-size="12.5" text-anchor="middle" font-weight="normal" fill="#111" stroke="#111" stroke-width="0.22" font-family="Liberation Sans, sans-serif" letter-spacing="0.3">2000</text>
<text x="474.70" y="333.00" font-size="12.5" text-anchor="middle" font-weight="normal" fill="#111" stroke="#111" stroke-width="0.22" font-family="Liberation Sans, sans-serif" letter-spacing="0.3">3000</text>
<line x1="97.50" y1="341.30" x2="97.50" y2="449.60" stroke="#262626" stroke-width="1.3"/>
<line x1="119.50" y1="341.30" x2="119.50" y2="449.60" stroke="#262626" stroke-width="1.3"/>
<line x1="142.50" y1="341.30" x2="142.50" y2="449.60" stroke="#262626" stroke-width="1.3"/>
<line x1="164.50" y1="341.30" x2="164.50" y2="449.60" stroke="#262626" stroke-width="1.3"/>
<line x1="186.50" y1="341.30" x2="186.50" y2="449.60" stroke="#262626" stroke-width="1.3"/>
<line x1="208.50" y1="341.30" x2="208.50" y2="449.60" stroke="#262626" stroke-width="1.3"/>
<line x1="230.50" y1="341.30" x2="230.50" y2="449.60" stroke="#262626" stroke-width="1.3"/>
<line x1="253.50" y1="341.30" x2="253.50" y2="449.60" stroke="#262626" stroke-width="1.3"/>
<line x1="275.50" y1="341.30" x2="275.50" y2="449.60" stroke="#262626" stroke-width="1.3"/>
<line x1="297.50" y1="341.30" x2="297.50" y2="449.60" stroke="#262626" stroke-width="1.3"/>
<line x1="319.50" y1="341.30" x2="319.50" y2="449.60" stroke="#262626" stroke-width="1.3"/>
<line x1="341.50" y1="341.30" x2="341.50" y2="449.60" stroke="#262626" stroke-width="1.3"/>
<line x1="364.50" y1="341.30" x2="364.50" y2="449.60" stroke="#262626" stroke-width="1.3"/>
<line x1="386.50" y1="341.30" x2="386.50" y2="449.60" stroke="#262626" stroke-width="1.3"/>
<line x1="408.50" y1="341.30" x2="408.50" y2="449.60" stroke="#262626" stroke-width="1.3"/>
<line x1="430.50" y1="341.30" x2="430.50" y2="449.60" stroke="#262626" stroke-width="1.3"/>
<line x1="452.50" y1="341.30" x2="452.50" y2="449.60" stroke="#262626" stroke-width="1.3"/>
<line x1="475.50" y1="341.30" x2="475.50" y2="449.60" stroke="#262626" stroke-width="1.3"/>
<line x1="497.50" y1="341.30" x2="497.50" y2="449.60" stroke="#262626" stroke-width="1.3"/>
<line x1="75.50" y1="352.50" x2="519.10" y2="352.50" stroke="#262626" stroke-width="1.2"/>
<line x1="75.50" y1="362.50" x2="519.10" y2="362.50" stroke="#262626" stroke-width="1.2"/>
<line x1="75.50" y1="373.50" x2="519.10" y2="373.50" stroke="#262626" stroke-width="1.2"/>
<line x1="75.50" y1="384.50" x2="519.10" y2="384.50" stroke="#262626" stroke-width="1.2"/>
<line x1="75.50" y1="395.50" x2="519.10" y2="395.50" stroke="#262626" stroke-width="1.2"/>
<line x1="75.50" y1="406.50" x2="519.10" y2="406.50" stroke="#262626" stroke-width="1.2"/>
<line x1="75.50" y1="417.50" x2="519.10" y2="417.50" stroke="#262626" stroke-width="1.2"/>
<line x1="75.50" y1="427.50" x2="519.10" y2="427.50" stroke="#262626" stroke-width="1.2"/>
<line x1="75.50" y1="438.50" x2="519.10" y2="438.50" stroke="#262626" stroke-width="1.2"/>
<rect x="503.10" y="344.00" width="12.50" height="11.40" fill="#fff"/>
<rect x="503.10" y="361.00" width="12.50" height="11.40" fill="#fff"/>
<rect x="478.30" y="384.00" width="12.50" height="11.40" fill="#fff"/>
<rect x="454.70" y="393.10" width="12.50" height="11.40" fill="#fff"/>
<rect x="454.70" y="405.90" width="12.50" height="11.40" fill="#fff"/>
<path d="M75.50 401.85 L77.64 401.60 L79.78 401.35 L81.93 401.09 L84.07 400.83 L86.21 400.57 L88.35 400.31 L90.49 400.04 L92.63 399.77 L94.78 399.50 L96.92 399.23 L99.06 398.96 L101.20 398.68 L103.34 398.40 L105.48 398.12 L107.63 397.84 L109.77 397.55 L111.91 397.26 L114.05 396.98 L116.19 396.69 L118.33 396.39 L120.48 396.10 L122.62 395.80 L124.76 395.51 L126.90 395.21 L129.04 394.91 L131.18 394.61 L133.33 394.30 L135.47 394.00 L137.61 393.69 L139.75 393.38 L141.89 393.07 L144.03 392.76 L146.18 392.45 L148.32 392.13 L150.46 391.82 L152.60 391.50 L154.74 391.19 L156.88 390.87 L159.03 390.55 L161.17 390.23 L163.31 389.91 L165.45 389.58 L167.59 389.26 L169.74 388.93 L171.88 388.61 L174.02 388.28 L176.16 387.95 L178.30 387.63 L180.44 387.30 L182.59 386.97 L184.73 386.64 L186.87 386.30 L189.01 385.97 L191.15 385.64 L193.29 385.31 L195.44 384.97 L197.58 384.64 L199.72 384.30 L201.86 383.97 L204.00 383.63 L206.14 383.30 L208.29 382.96 L210.43 382.63 L212.57 382.29 L214.71 381.95 L216.85 381.62 L218.99 381.28 L221.14 380.94 L223.28 380.60 L225.42 380.27 L227.56 379.93 L229.70 379.59 L231.84 379.25 L233.99 378.92 L236.13 378.58 L238.27 378.24 L240.41 377.91 L242.55 377.57 L244.69 377.23 L246.84 376.90 L248.98 376.56 L251.12 376.22 L253.26 375.89 L255.40 375.56 L257.55 375.22 L259.69 374.89 L261.83 374.55 L263.97 374.22 L266.11 373.89 L268.25 373.56 L270.40 373.23 L272.54 372.90 L274.68 372.57 L276.82 372.24 L278.96 371.91 L281.10 371.59 L283.25 371.26 L285.39 370.94 L287.53 370.61 L289.67 370.29 L291.81 369.97 L293.95 369.65 L296.10 369.33 L298.24 369.01 L300.38 368.69 L302.52 368.38 L304.66 368.06 L306.80 367.75 L308.95 367.44 L311.09 367.13 L313.23 366.82 L315.37 366.51 L317.51 366.20 L319.65 365.90 L321.80 365.60 L323.94 365.29 L326.08 364.99 L328.22 364.69 L330.36 364.40 L332.51 364.10 L334.65 363.81 L336.79 363.52 L338.93 363.23 L341.07 362.94 L343.21 362.65 L345.36 362.37 L347.50 362.09 L349.64 361.80 L351.78 361.53 L353.92 361.25 L356.06 360.98 L358.21 360.70 L360.35 360.43 L362.49 360.17 L364.63 359.90 L366.77 359.64 L368.91 359.38 L371.06 359.12 L373.20 358.86 L375.34 358.61 L377.48 358.36 L379.62 358.11 L381.76 357.86 L383.91 357.62 L386.05 357.37 L388.19 357.14 L390.33 356.90 L392.47 356.67 L394.61 356.44 L396.76 356.21 L398.90 355.98 L401.04 355.76 L403.18 355.54 L405.32 355.32 L407.46 355.11 L409.61 354.90 L411.75 354.69 L413.89 354.49 L416.03 354.29 L418.17 354.09 L420.32 353.89 L422.46 353.70 L424.60 353.51 L426.74 353.32 L428.88 353.14 L431.02 352.96 L433.17 352.79 L435.31 352.61 L437.45 352.45 L439.59 352.28 L441.73 352.12 L443.87 351.96 L446.02 351.80 L448.16 351.65 L450.30 351.50 L452.44 351.36 L454.58 351.22 L456.72 351.08 L458.87 350.95 L461.01 350.82 L463.15 350.70 L465.29 350.57 L467.43 350.46 L469.57 350.34 L471.72 350.23 L473.86 350.13 L476.00 350.03 L478.14 349.93 L480.28 349.84 L482.42 349.75 L484.57 349.66 L486.71 349.58 L488.85 349.51 L490.99 349.43 L493.13 349.36 L495.27 349.30 L497.42 349.24 L499.56 349.19 L501.70 349.14" fill="none" stroke="#151515" stroke-width="1.7"/>
<path d="M75.50 407.32 L77.64 407.11 L79.78 406.89 L81.93 406.68 L84.07 406.46 L86.21 406.24 L88.35 406.01 L90.49 405.79 L92.63 405.57 L94.78 405.34 L96.92 405.11 L99.06 404.88 L101.20 404.65 L103.34 404.42 L105.48 404.19 L107.63 403.96 L109.77 403.72 L111.91 403.48 L114.05 403.25 L116.19 403.01 L118.33 402.77 L120.48 402.53 L122.62 402.28 L124.76 402.04 L126.90 401.80 L129.04 401.55 L131.18 401.30 L133.33 401.06 L135.47 400.81 L137.61 400.56 L139.75 400.31 L141.89 400.06 L144.03 399.81 L146.18 399.56 L148.32 399.30 L150.46 399.05 L152.60 398.79 L154.74 398.54 L156.88 398.28 L159.03 398.03 L161.17 397.77 L163.31 397.51 L165.45 397.25 L167.59 396.99 L169.74 396.74 L171.88 396.48 L174.02 396.22 L176.16 395.95 L178.30 395.69 L180.44 395.43 L182.59 395.17 L184.73 394.91 L186.87 394.64 L189.01 394.38 L191.15 394.12 L193.29 393.85 L195.44 393.59 L197.58 393.33 L199.72 393.06 L201.86 392.80 L204.00 392.53 L206.14 392.27 L208.29 392.01 L210.43 391.74 L212.57 391.48 L214.71 391.21 L216.85 390.95 L218.99 390.68 L221.14 390.42 L223.28 390.16 L225.42 389.89 L227.56 389.63 L229.70 389.36 L231.84 389.10 L233.99 388.84 L236.13 388.58 L238.27 388.31 L240.41 388.05 L242.55 387.79 L244.69 387.53 L246.84 387.27 L248.98 387.01 L251.12 386.75 L253.26 386.49 L255.40 386.23 L257.55 385.97 L259.69 385.71 L261.83 385.45 L263.97 385.19 L266.11 384.94 L268.25 384.68 L270.40 384.43 L272.54 384.17 L274.68 383.92 L276.82 383.67 L278.96 383.41 L281.10 383.16 L283.25 382.91 L285.39 382.66 L287.53 382.41 L289.67 382.17 L291.81 381.92 L293.95 381.67 L296.10 381.43 L298.24 381.19 L300.38 380.94 L302.52 380.70 L304.66 380.46 L306.80 380.22 L308.95 379.98 L311.09 379.74 L313.23 379.51 L315.37 379.27 L317.51 379.04 L319.65 378.81 L321.80 378.58 L323.94 378.35 L326.08 378.12 L328.22 377.89 L330.36 377.67 L332.51 377.44 L334.65 377.22 L336.79 377.00 L338.93 376.78 L341.07 376.56 L343.21 376.34 L345.36 376.13 L347.50 375.91 L349.64 375.70 L351.78 375.49 L353.92 375.28 L356.06 375.07 L358.21 374.87 L360.35 374.67 L362.49 374.46 L364.63 374.26 L366.77 374.07 L368.91 373.87 L371.06 373.68 L373.20 373.48 L375.34 373.29 L377.48 373.10 L379.62 372.92 L381.76 372.73 L383.91 372.55 L386.05 372.37 L388.19 372.19 L390.33 372.01 L392.47 371.84 L394.61 371.67 L396.76 371.50 L398.90 371.33 L401.04 371.16 L403.18 371.00 L405.32 370.84 L407.46 370.68 L409.61 370.53 L411.75 370.37 L413.89 370.22 L416.03 370.07 L418.17 369.92 L420.32 369.78 L422.46 369.64 L424.60 369.50 L426.74 369.36 L428.88 369.23 L431.02 369.10 L433.17 368.97 L435.31 368.84 L437.45 368.72 L439.59 368.60 L441.73 368.48 L443.87 368.36 L446.02 368.25 L448.16 368.14 L450.30 368.03 L452.44 367.93 L454.58 367.83 L456.72 367.73 L458.87 367.63 L461.01 367.54 L463.15 367.45 L465.29 367.36 L467.43 367.28 L469.57 367.20 L471.72 367.12 L473.86 367.05 L476.00 366.98 L478.14 366.91 L480.28 366.84 L482.42 366.78 L484.57 366.72 L486.71 366.67 L488.85 366.61 L490.99 366.57 L493.13 366.52 L495.27 366.48 L497.42 366.44 L499.56 366.40 L501.70 366.37" fill="none" stroke="#151515" stroke-width="1.7"/>
<path d="M75.50 414.22 L77.51 414.07 L79.52 413.92 L81.53 413.77 L83.54 413.61 L85.55 413.46 L87.56 413.31 L89.57 413.15 L91.58 412.99 L93.59 412.84 L95.60 412.68 L97.61 412.52 L99.61 412.36 L101.62 412.20 L103.63 412.04 L105.64 411.88 L107.65 411.72 L109.66 411.55 L111.67 411.39 L113.68 411.23 L115.69 411.06 L117.70 410.90 L119.71 410.73 L121.72 410.56 L123.73 410.40 L125.74 410.23 L127.75 410.06 L129.76 409.89 L131.77 409.72 L133.78 409.55 L135.79 409.38 L137.80 409.21 L139.81 409.04 L141.82 408.87 L143.82 408.70 L145.83 408.53 L147.84 408.35 L149.85 408.18 L151.86 408.01 L153.87 407.84 L155.88 407.66 L157.89 407.49 L159.90 407.32 L161.91 407.14 L163.92 406.97 L165.93 406.79 L167.94 406.62 L169.95 406.45 L171.96 406.27 L173.97 406.10 L175.98 405.92 L177.99 405.75 L180.00 405.57 L182.01 405.40 L184.02 405.22 L186.03 405.05 L188.03 404.88 L190.04 404.70 L192.05 404.53 L194.06 404.35 L196.07 404.18 L198.08 404.01 L200.09 403.83 L202.10 403.66 L204.11 403.49 L206.12 403.31 L208.13 403.14 L210.14 402.97 L212.15 402.79 L214.16 402.62 L216.17 402.45 L218.18 402.28 L220.19 402.11 L222.20 401.94 L224.21 401.77 L226.22 401.60 L228.23 401.43 L230.24 401.26 L232.24 401.09 L234.25 400.93 L236.26 400.76 L238.27 400.59 L240.28 400.43 L242.29 400.26 L244.30 400.10 L246.31 399.93 L248.32 399.77 L250.33 399.60 L252.34 399.44 L254.35 399.28 L256.36 399.12 L258.37 398.96 L260.38 398.80 L262.39 398.64 L264.40 398.48 L266.41 398.33 L268.42 398.17 L270.43 398.01 L272.44 397.86 L274.45 397.71 L276.45 397.55 L278.46 397.40 L280.47 397.25 L282.48 397.10 L284.49 396.95 L286.50 396.80 L288.51 396.66 L290.52 396.51 L292.53 396.37 L294.54 396.22 L296.55 396.08 L298.56 395.94 L300.57 395.80 L302.58 395.66 L304.59 395.52 L306.60 395.38 L308.61 395.25 L310.62 395.11 L312.63 394.98 L314.64 394.85 L316.65 394.72 L318.66 394.59 L320.66 394.46 L322.67 394.33 L324.68 394.20 L326.69 394.08 L328.70 393.96 L330.71 393.84 L332.72 393.72 L334.73 393.60 L336.74 393.48 L338.75 393.37 L340.76 393.25 L342.77 393.14 L344.78 393.03 L346.79 392.92 L348.80 392.81 L350.81 392.70 L352.82 392.60 L354.83 392.50 L356.84 392.39 L358.85 392.30 L360.86 392.20 L362.87 392.10 L364.87 392.01 L366.88 391.91 L368.89 391.82 L370.90 391.73 L372.91 391.65 L374.92 391.56 L376.93 391.48 L378.94 391.39 L380.95 391.31 L382.96 391.24 L384.97 391.16 L386.98 391.09 L388.99 391.01 L391.00 390.94 L393.01 390.87 L395.02 390.81 L397.03 390.74 L399.04 390.68 L401.05 390.62 L403.06 390.56 L405.07 390.51 L407.08 390.45 L409.08 390.40 L411.09 390.35 L413.10 390.31 L415.11 390.26 L417.12 390.22 L419.13 390.18 L421.14 390.14 L423.15 390.10 L425.16 390.07 L427.17 390.04 L429.18 390.01 L431.19 389.98 L433.20 389.96 L435.21 389.93 L437.22 389.91 L439.23 389.90 L441.24 389.88 L443.25 389.87 L445.26 389.86 L447.27 389.85 L449.28 389.85 L451.29 389.85 L453.29 389.85 L455.30 389.85 L457.31 389.85 L459.32 389.86 L461.33 389.87 L463.34 389.89 L465.35 389.90 L467.36 389.92 L469.37 389.94 L471.38 389.97 L473.39 389.99 L475.40 390.02" fill="none" stroke="#151515" stroke-width="1.7"/>
<path d="M75.50 416.70 L77.37 416.57 L79.25 416.43 L81.12 416.30 L83.00 416.17 L84.87 416.03 L86.75 415.90 L88.62 415.77 L90.49 415.63 L92.37 415.50 L94.24 415.37 L96.12 415.24 L97.99 415.10 L99.87 414.97 L101.74 414.84 L103.62 414.70 L105.49 414.57 L107.36 414.44 L109.24 414.31 L111.11 414.17 L112.99 414.04 L114.86 413.91 L116.74 413.78 L118.61 413.64 L120.48 413.51 L122.36 413.38 L124.23 413.25 L126.11 413.12 L127.98 412.99 L129.86 412.86 L131.73 412.72 L133.61 412.59 L135.48 412.46 L137.35 412.33 L139.23 412.20 L141.10 412.07 L142.98 411.94 L144.85 411.81 L146.73 411.68 L148.60 411.55 L150.47 411.42 L152.35 411.29 L154.22 411.17 L156.10 411.04 L157.97 410.91 L159.85 410.78 L161.72 410.65 L163.60 410.53 L165.47 410.40 L167.34 410.27 L169.22 410.15 L171.09 410.02 L172.97 409.90 L174.84 409.77 L176.72 409.65 L178.59 409.52 L180.46 409.40 L182.34 409.27 L184.21 409.15 L186.09 409.03 L187.96 408.90 L189.84 408.78 L191.71 408.66 L193.59 408.54 L195.46 408.42 L197.33 408.30 L199.21 408.18 L201.08 408.06 L202.96 407.94 L204.83 407.82 L206.71 407.70 L208.58 407.58 L210.45 407.46 L212.33 407.35 L214.20 407.23 L216.08 407.12 L217.95 407.00 L219.83 406.89 L221.70 406.77 L223.58 406.66 L225.45 406.54 L227.32 406.43 L229.20 406.32 L231.07 406.21 L232.95 406.10 L234.82 405.99 L236.70 405.88 L238.57 405.77 L240.44 405.66 L242.32 405.55 L244.19 405.44 L246.07 405.34 L247.94 405.23 L249.82 405.12 L251.69 405.02 L253.57 404.91 L255.44 404.81 L257.31 404.71 L259.19 404.60 L261.06 404.50 L262.94 404.40 L264.81 404.30 L266.69 404.20 L268.56 404.10 L270.43 404.01 L272.31 403.91 L274.18 403.81 L276.06 403.72 L277.93 403.62 L279.81 403.53 L281.68 403.43 L283.56 403.34 L285.43 403.25 L287.30 403.16 L289.18 403.07 L291.05 402.98 L292.93 402.89 L294.80 402.80 L296.68 402.71 L298.55 402.63 L300.42 402.54 L302.30 402.46 L304.17 402.37 L306.05 402.29 L307.92 402.21 L309.80 402.13 L311.67 402.04 L313.55 401.97 L315.42 401.89 L317.29 401.81 L319.17 401.73 L321.04 401.66 L322.92 401.58 L324.79 401.51 L326.67 401.43 L328.54 401.36 L330.41 401.29 L332.29 401.22 L334.16 401.15 L336.04 401.08 L337.91 401.02 L339.79 400.95 L341.66 400.89 L343.54 400.82 L345.41 400.76 L347.28 400.70 L349.16 400.64 L351.03 400.58 L352.91 400.52 L354.78 400.46 L356.66 400.40 L358.53 400.35 L360.40 400.29 L362.28 400.24 L364.15 400.19 L366.03 400.13 L367.90 400.08 L369.78 400.03 L371.65 399.99 L373.53 399.94 L375.40 399.89 L377.27 399.85 L379.15 399.81 L381.02 399.76 L382.90 399.72 L384.77 399.68 L386.65 399.64 L388.52 399.61 L390.39 399.57 L392.27 399.53 L394.14 399.50 L396.02 399.47 L397.89 399.44 L399.77 399.41 L401.64 399.38 L403.52 399.35 L405.39 399.32 L407.26 399.30 L409.14 399.27 L411.01 399.25 L412.89 399.23 L414.76 399.21 L416.64 399.19 L418.51 399.17 L420.38 399.16 L422.26 399.14 L424.13 399.13 L426.01 399.12 L427.88 399.11 L429.76 399.10 L431.63 399.09 L433.51 399.08 L435.38 399.08 L437.25 399.07 L439.13 399.07 L441.00 399.07 L442.88 399.07 L444.75 399.07 L446.63 399.08 L448.50 399.08" fill="none" stroke="#151515" stroke-width="1.7"/>
<path d="M75.50 421.27 L77.37 421.14 L79.25 421.01 L81.12 420.87 L83.00 420.74 L84.87 420.61 L86.75 420.48 L88.62 420.35 L90.49 420.22 L92.37 420.09 L94.24 419.97 L96.12 419.84 L97.99 419.71 L99.87 419.59 L101.74 419.46 L103.62 419.34 L105.49 419.22 L107.36 419.09 L109.24 418.97 L111.11 418.85 L112.99 418.73 L114.86 418.61 L116.74 418.49 L118.61 418.38 L120.48 418.26 L122.36 418.14 L124.23 418.03 L126.11 417.91 L127.98 417.80 L129.86 417.68 L131.73 417.57 L133.61 417.46 L135.48 417.35 L137.35 417.24 L139.23 417.13 L141.10 417.02 L142.98 416.91 L144.85 416.80 L146.73 416.70 L148.60 416.59 L150.47 416.49 L152.35 416.38 L154.22 416.28 L156.10 416.18 L157.97 416.08 L159.85 415.97 L161.72 415.87 L163.60 415.77 L165.47 415.68 L167.34 415.58 L169.22 415.48 L171.09 415.38 L172.97 415.29 L174.84 415.19 L176.72 415.10 L178.59 415.01 L180.46 414.91 L182.34 414.82 L184.21 414.73 L186.09 414.64 L187.96 414.55 L189.84 414.46 L191.71 414.38 L193.59 414.29 L195.46 414.20 L197.33 414.12 L199.21 414.03 L201.08 413.95 L202.96 413.87 L204.83 413.78 L206.71 413.70 L208.58 413.62 L210.45 413.54 L212.33 413.46 L214.20 413.39 L216.08 413.31 L217.95 413.23 L219.83 413.16 L221.70 413.08 L223.58 413.01 L225.45 412.94 L227.32 412.86 L229.20 412.79 L231.07 412.72 L232.95 412.65 L234.82 412.58 L236.70 412.52 L238.57 412.45 L240.44 412.38 L242.32 412.32 L244.19 412.25 L246.07 412.19 L247.94 412.13 L249.82 412.06 L251.69 412.00 L253.57 411.94 L255.44 411.88 L257.31 411.83 L259.19 411.77 L261.06 411.71 L262.94 411.65 L264.81 411.60 L266.69 411.55 L268.56 411.49 L270.43 411.44 L272.31 411.39 L274.18 411.34 L276.06 411.29 L277.93 411.24 L279.81 411.19 L281.68 411.14 L283.56 411.10 L285.43 411.05 L287.30 411.01 L289.18 410.96 L291.05 410.92 L292.93 410.88 L294.80 410.84 L296.68 410.80 L298.55 410.76 L300.42 410.72 L302.30 410.68 L304.17 410.64 L306.05 410.61 L307.92 410.57 L309.80 410.54 L311.67 410.51 L313.55 410.47 L315.42 410.44 L317.29 410.41 L319.17 410.38 L321.04 410.35 L322.92 410.33 L324.79 410.30 L326.67 410.27 L328.54 410.25 L330.41 410.23 L332.29 410.20 L334.16 410.18 L336.04 410.16 L337.91 410.14 L339.79 410.12 L341.66 410.10 L343.54 410.08 L345.41 410.07 L347.28 410.05 L349.16 410.04 L351.03 410.02 L352.91 410.01 L354.78 410.00 L356.66 409.99 L358.53 409.98 L360.40 409.97 L362.28 409.96 L364.15 409.95 L366.03 409.95 L367.90 409.94 L369.78 409.94 L371.65 409.93 L373.53 409.93 L375.40 409.93 L377.27 409.93 L379.15 409.93 L381.02 409.93 L382.90 409.93 L384.77 409.94 L386.65 409.94 L388.52 409.95 L390.39 409.95 L392.27 409.96 L394.14 409.97 L396.02 409.98 L397.89 409.99 L399.77 410.00 L401.64 410.01 L403.52 410.02 L405.39 410.04 L407.26 410.05 L409.14 410.07 L411.01 410.09 L412.89 410.10 L414.76 410.12 L416.64 410.14 L418.51 410.16 L420.38 410.19 L422.26 410.21 L424.13 410.23 L426.01 410.26 L427.88 410.28 L429.76 410.31 L431.63 410.34 L433.51 410.37 L435.38 410.40 L437.25 410.43 L439.13 410.46 L441.00 410.49 L442.88 410.53 L444.75 410.56 L446.63 410.60 L448.50 410.63" fill="none" stroke="#151515" stroke-width="1.7"/>
<line x1="75.50" y1="340.50" x2="75.50" y2="450.50" stroke="#151515" stroke-width="1.9"/>
<line x1="519.10" y1="340.50" x2="519.10" y2="450.50" stroke="#151515" stroke-width="1.7"/>
<line x1="75.50" y1="341.30" x2="519.10" y2="341.30" stroke="#151515" stroke-width="1.6"/>
<line x1="75.50" y1="449.60" x2="519.10" y2="449.60" stroke="#151515" stroke-width="1.9"/>
<text x="504.40" y="354.10" font-size="12.8" text-anchor="start" font-weight="bold" fill="#111" stroke="#111" stroke-width="0.22" font-family="Liberation Sans, sans-serif" >A</text>
<text x="504.40" y="371.10" font-size="12.8" text-anchor="start" font-weight="bold" fill="#111" stroke="#111" stroke-width="0.22" font-family="Liberation Sans, sans-serif" >B</text>
<text x="479.60" y="394.10" font-size="12.8" text-anchor="start" font-weight="bold" fill="#111" stroke="#111" stroke-width="0.22" font-family="Liberation Sans, sans-serif" >C</text>
<text x="456.00" y="403.20" font-size="12.8" text-anchor="start" font-weight="bold" fill="#111" stroke="#111" stroke-width="0.22" font-family="Liberation Sans, sans-serif" >D</text>
<text x="456.00" y="416.00" font-size="12.8" text-anchor="start" font-weight="bold" fill="#111" stroke="#111" stroke-width="0.22" font-family="Liberation Sans, sans-serif" >E</text>
<text x="67.90" y="344.20" font-size="12.5" text-anchor="end" font-weight="normal" fill="#111" stroke="#111" stroke-width="0.22" font-family="Liberation Sans, sans-serif" >20</text>
<text x="67.90" y="366.20" font-size="12.5" text-anchor="end" font-weight="normal" fill="#111" stroke="#111" stroke-width="0.22" font-family="Liberation Sans, sans-serif" >16</text>
<text x="67.90" y="387.50" font-size="12.5" text-anchor="end" font-weight="normal" fill="#111" stroke="#111" stroke-width="0.22" font-family="Liberation Sans, sans-serif" >12</text>
<text x="67.90" y="409.10" font-size="12.5" text-anchor="end" font-weight="normal" fill="#111" stroke="#111" stroke-width="0.22" font-family="Liberation Sans, sans-serif" >8</text>
<text x="67.90" y="431.00" font-size="12.5" text-anchor="end" font-weight="normal" fill="#111" stroke="#111" stroke-width="0.22" font-family="Liberation Sans, sans-serif" >4</text>
<text x="67.90" y="452.40" font-size="12.5" text-anchor="end" font-weight="normal" fill="#111" stroke="#111" stroke-width="0.22" font-family="Liberation Sans, sans-serif" >0</text>
<text transform="translate(47.40 413.80) rotate(-90)" fill="#111" stroke="#111" stroke-width="0.22" font-family="Liberation Sans, sans-serif" xml:space="preserve"><tspan font-size="16.2" font-weight="bold" dx="0" dy="0">P</tspan><tspan font-size="12.5" font-weight="normal" dx="4.6" dy="0">kW</tspan></text>
<line x1="519.10" y1="449.60" x2="524.90" y2="449.60" stroke="#1a1a1a" stroke-width="1.1"/>
<line x1="519.10" y1="441.38" x2="524.90" y2="441.38" stroke="#1a1a1a" stroke-width="1.1"/>
<line x1="519.10" y1="433.17" x2="524.90" y2="433.17" stroke="#1a1a1a" stroke-width="1.1"/>
<line x1="519.10" y1="424.95" x2="524.90" y2="424.95" stroke="#1a1a1a" stroke-width="1.1"/>
<line x1="519.10" y1="416.74" x2="524.90" y2="416.74" stroke="#1a1a1a" stroke-width="1.1"/>
<line x1="519.10" y1="408.52" x2="524.90" y2="408.52" stroke="#1a1a1a" stroke-width="1.1"/>
<line x1="519.10" y1="400.30" x2="524.90" y2="400.30" stroke="#1a1a1a" stroke-width="1.1"/>
<line x1="519.10" y1="392.09" x2="524.90" y2="392.09" stroke="#1a1a1a" stroke-width="1.1"/>
<line x1="519.10" y1="383.87" x2="524.90" y2="383.87" stroke="#1a1a1a" stroke-width="1.1"/>
<line x1="519.10" y1="375.66" x2="524.90" y2="375.66" stroke="#1a1a1a" stroke-width="1.1"/>
<line x1="519.10" y1="367.44" x2="524.90" y2="367.44" stroke="#1a1a1a" stroke-width="1.1"/>
<line x1="519.10" y1="359.22" x2="524.90" y2="359.22" stroke="#1a1a1a" stroke-width="1.1"/>
<line x1="519.10" y1="351.01" x2="524.90" y2="351.01" stroke="#1a1a1a" stroke-width="1.1"/>
<line x1="519.10" y1="342.79" x2="524.90" y2="342.79" stroke="#1a1a1a" stroke-width="1.1"/>
<text x="527.20" y="372.20" font-size="12.5" text-anchor="start" font-weight="normal" fill="#111" stroke="#111" stroke-width="0.22" font-family="Liberation Sans, sans-serif" >20</text>
<text x="527.60" y="413.10" font-size="12.5" text-anchor="start" font-weight="normal" fill="#111" stroke="#111" stroke-width="0.22" font-family="Liberation Sans, sans-serif" >12</text>
<text x="529.00" y="450.80" font-size="12.5" text-anchor="start" font-weight="normal" fill="#111" stroke="#111" stroke-width="0.22" font-family="Liberation Sans, sans-serif" >0</text>
<text transform="translate(558.20 415.50) rotate(-90)" fill="#111" stroke="#111" stroke-width="0.22" font-family="Liberation Sans, sans-serif" xml:space="preserve"><tspan font-size="12.8" font-weight="normal" dx="0" dy="0">P HP</tspan></text>
<line x1="97.50" y1="463.90" x2="97.50" y2="573.80" stroke="#262626" stroke-width="1.3"/>
<line x1="119.50" y1="463.90" x2="119.50" y2="573.80" stroke="#262626" stroke-width="1.3"/>
<line x1="142.50" y1="463.90" x2="142.50" y2="573.80" stroke="#262626" stroke-width="1.3"/>
<line x1="164.50" y1="463.90" x2="164.50" y2="573.80" stroke="#262626" stroke-width="1.3"/>
<line x1="186.50" y1="463.90" x2="186.50" y2="573.80" stroke="#262626" stroke-width="1.3"/>
<line x1="208.50" y1="463.90" x2="208.50" y2="573.80" stroke="#262626" stroke-width="1.3"/>
<line x1="230.50" y1="463.90" x2="230.50" y2="573.80" stroke="#262626" stroke-width="1.3"/>
<line x1="253.50" y1="463.90" x2="253.50" y2="573.80" stroke="#262626" stroke-width="1.3"/>
<line x1="275.50" y1="463.90" x2="275.50" y2="573.80" stroke="#262626" stroke-width="1.3"/>
<line x1="297.50" y1="463.90" x2="297.50" y2="573.80" stroke="#262626" stroke-width="1.3"/>
<line x1="319.50" y1="463.90" x2="319.50" y2="573.80" stroke="#262626" stroke-width="1.3"/>
<line x1="341.50" y1="463.90" x2="341.50" y2="573.80" stroke="#262626" stroke-width="1.3"/>
<line x1="364.50" y1="463.90" x2="364.50" y2="573.80" stroke="#262626" stroke-width="1.3"/>
<line x1="386.50" y1="463.90" x2="386.50" y2="573.80" stroke="#262626" stroke-width="1.3"/>
<line x1="408.50" y1="463.90" x2="408.50" y2="573.80" stroke="#262626" stroke-width="1.3"/>
<line x1="430.50" y1="463.90" x2="430.50" y2="573.80" stroke="#262626" stroke-width="1.3"/>
<line x1="452.50" y1="463.90" x2="452.50" y2="573.80" stroke="#262626" stroke-width="1.3"/>
<line x1="475.50" y1="463.90" x2="475.50" y2="573.80" stroke="#262626" stroke-width="1.3"/>
<line x1="497.50" y1="463.90" x2="497.50" y2="573.80" stroke="#262626" stroke-width="1.3"/>
<line x1="75.50" y1="477.50" x2="519.10" y2="477.50" stroke="#262626" stroke-width="1.2"/>
<line x1="75.50" y1="491.50" x2="519.10" y2="491.50" stroke="#262626" stroke-width="1.2"/>
<line x1="75.50" y1="505.50" x2="519.10" y2="505.50" stroke="#262626" stroke-width="1.2"/>
<line x1="75.50" y1="518.50" x2="519.10" y2="518.50" stroke="#262626" stroke-width="1.2"/>
<line x1="75.50" y1="532.50" x2="519.10" y2="532.50" stroke="#262626" stroke-width="1.2"/>
<line x1="75.50" y1="546.50" x2="519.10" y2="546.50" stroke="#262626" stroke-width="1.2"/>
<line x1="75.50" y1="560.50" x2="519.10" y2="560.50" stroke="#262626" stroke-width="1.2"/>
<rect x="502.70" y="469.30" width="12.50" height="11.40" fill="#fff"/>
<rect x="502.70" y="485.50" width="12.50" height="11.40" fill="#fff"/>
<rect x="477.10" y="485.50" width="12.50" height="11.40" fill="#fff"/>
<rect x="452.90" y="486.20" width="12.50" height="11.40" fill="#fff"/>
<rect x="452.90" y="499.20" width="12.50" height="11.40" fill="#fff"/>
<path d="M114.00 559.65 L115.68 558.62 L117.36 557.60 L119.04 556.59 L120.72 555.58 L122.40 554.59 L124.08 553.60 L125.76 552.62 L127.44 551.64 L129.12 550.68 L130.80 549.72 L132.48 548.77 L134.16 547.83 L135.85 546.90 L137.53 545.97 L139.21 545.06 L140.89 544.15 L142.57 543.24 L144.25 542.35 L145.93 541.46 L147.61 540.58 L149.29 539.71 L150.97 538.85 L152.65 537.99 L154.33 537.15 L156.01 536.30 L157.69 535.47 L159.37 534.65 L161.05 533.83 L162.73 533.02 L164.41 532.21 L166.09 531.41 L167.77 530.62 L169.45 529.84 L171.13 529.07 L172.81 528.30 L174.49 527.54 L176.17 526.78 L177.86 526.04 L179.54 525.30 L181.22 524.56 L182.90 523.84 L184.58 523.12 L186.26 522.41 L187.94 521.70 L189.62 521.00 L191.30 520.31 L192.98 519.62 L194.66 518.95 L196.34 518.27 L198.02 517.61 L199.70 516.95 L201.38 516.30 L203.06 515.65 L204.74 515.01 L206.42 514.38 L208.10 513.75 L209.78 513.13 L211.46 512.52 L213.14 511.91 L214.82 511.31 L216.50 510.72 L218.18 510.13 L219.87 509.54 L221.55 508.97 L223.23 508.40 L224.91 507.83 L226.59 507.27 L228.27 506.72 L229.95 506.17 L231.63 505.63 L233.31 505.10 L234.99 504.57 L236.67 504.05 L238.35 503.53 L240.03 503.02 L241.71 502.51 L243.39 502.01 L245.07 501.52 L246.75 501.03 L248.43 500.55 L250.11 500.07 L251.79 499.60 L253.47 499.13 L255.15 498.67 L256.83 498.21 L258.51 497.76 L260.19 497.31 L261.88 496.87 L263.56 496.44 L265.24 496.01 L266.92 495.58 L268.60 495.16 L270.28 494.75 L271.96 494.34 L273.64 493.94 L275.32 493.54 L277.00 493.14 L278.68 492.75 L280.36 492.37 L282.04 491.99 L283.72 491.62 L285.40 491.25 L287.08 490.88 L288.76 490.53 L290.44 490.17 L292.12 489.83 L293.80 489.48 L295.48 489.15 L297.16 488.82 L298.84 488.49 L300.52 488.17 L302.21 487.86 L303.89 487.55 L305.57 487.25 L307.25 486.95 L308.93 486.66 L310.61 486.38 L312.29 486.10 L313.97 485.83 L315.65 485.56 L317.33 485.30 L319.01 485.05 L320.69 484.80 L322.37 484.56 L324.05 484.33 L325.73 484.10 L327.41 483.88 L329.09 483.66 L330.77 483.46 L332.45 483.26 L334.13 483.07 L335.81 482.88 L337.49 482.71 L339.17 482.54 L340.85 482.38 L342.53 482.23 L344.22 482.08 L345.90 481.95 L347.58 481.82 L349.26 481.71 L350.94 481.60 L352.62 481.50 L354.30 481.41 L355.98 481.33 L357.66 481.26 L359.34 481.20 L361.02 481.15 L362.70 481.11 L364.38 481.08 L366.06 481.06 L367.74 481.05 L369.42 481.05 L371.10 481.07 L372.78 481.09 L374.46 481.13 L376.14 481.17 L377.82 481.23 L379.50 481.30 L381.18 481.39 L382.86 481.48 L384.54 481.59 L386.23 481.71 L387.91 481.85 L389.59 482.00 L391.27 482.16 L392.95 482.33 L394.63 482.52 L396.31 482.72 L397.99 482.94 L399.67 483.17 L401.35 483.42 L403.03 483.68 L404.71 483.96 L406.39 484.25 L408.07 484.55 L409.75 484.88 L411.43 485.21 L413.11 485.57 L414.79 485.94 L416.47 486.32 L418.15 486.73 L419.83 487.15 L421.51 487.58 L423.19 488.04 L424.87 488.51 L426.55 489.00 L428.24 489.50 L429.92 490.03 L431.60 490.57 L433.28 491.13 L434.96 491.71 L436.64 492.31 L438.32 492.93 L440.00 493.57 L441.68 494.22 L443.36 494.90 L445.04 495.59 L446.72 496.31 L448.40 497.04" fill="none" stroke="#151515" stroke-width="1.6"/>
<path d="M255.15 495.64 L256.83 495.21 L258.51 494.79 L260.19 494.38 L261.88 493.98 L263.56 493.58 L265.24 493.18 L266.92 492.79 L268.60 492.41 L270.28 492.03 L271.96 491.65 L273.64 491.28 L275.32 490.92 L277.00 490.55 L278.68 490.20 L280.36 489.84 L282.04 489.49 L283.72 489.14 L285.40 488.80 L287.08 488.46 L288.76 488.13 L290.44 487.80 L292.12 487.47 L293.80 487.15 L295.48 486.83 L297.16 486.52 L298.84 486.22 L300.52 485.91 L302.21 485.62 L303.89 485.33 L305.57 485.04 L307.25 484.76 L308.93 484.49 L310.61 484.22 L312.29 483.96 L313.97 483.70 L315.65 483.45 L317.33 483.20 L319.01 482.96 L320.69 482.73 L322.37 482.50 L324.05 482.28 L325.73 482.07 L327.41 481.86 L329.09 481.66 L330.77 481.46 L332.45 481.28 L334.13 481.10 L335.81 480.93 L337.49 480.76 L339.17 480.60 L340.85 480.45 L342.53 480.31 L344.22 480.17 L345.90 480.04 L347.58 479.92 L349.26 479.81 L350.94 479.70 L352.62 479.61 L354.30 479.52 L355.98 479.44 L357.66 479.37 L359.34 479.30 L361.02 479.25 L362.70 479.20 L364.38 479.16 L366.06 479.13 L367.74 479.11 L369.42 479.10 L371.10 479.10 L372.78 479.11 L374.46 479.13 L376.14 479.15 L377.82 479.19 L379.50 479.23 L381.18 479.29 L382.86 479.35 L384.54 479.43 L386.23 479.51 L387.91 479.61 L389.59 479.71 L391.27 479.83 L392.95 479.96 L394.63 480.09 L396.31 480.24 L397.99 480.40 L399.67 480.56 L401.35 480.74 L403.03 480.93 L404.71 481.14 L406.39 481.35 L408.07 481.57 L409.75 481.81 L411.43 482.05 L413.11 482.31 L414.79 482.58 L416.47 482.86 L418.15 483.16 L419.83 483.46 L421.51 483.78 L423.19 484.11 L424.87 484.45 L426.55 484.81 L428.24 485.17 L429.92 485.55 L431.60 485.94 L433.28 486.35 L434.96 486.76 L436.64 487.20 L438.32 487.64 L440.00 488.09 L441.68 488.56 L443.36 489.05 L445.04 489.54 L446.72 490.05 L448.40 490.58" fill="none" stroke="#151515" stroke-width="1.6"/>
<path d="M345.88 478.68 L347.69 478.54 L349.50 478.40 L351.31 478.28 L353.13 478.16 L354.94 478.05 L356.75 477.95 L358.56 477.86 L360.37 477.77 L362.18 477.69 L363.99 477.61 L365.81 477.54 L367.62 477.48 L369.43 477.43 L371.24 477.38 L373.05 477.34 L374.86 477.30 L376.68 477.27 L378.49 477.24 L380.30 477.22 L382.11 477.21 L383.92 477.19 L385.73 477.19 L387.55 477.19 L389.36 477.19 L391.17 477.20 L392.98 477.22 L394.79 477.24 L396.60 477.26 L398.41 477.30 L400.23 477.33 L402.04 477.38 L403.85 477.43 L405.66 477.49 L407.47 477.55 L409.28 477.63 L411.10 477.71 L412.91 477.79 L414.72 477.89 L416.53 477.99 L418.34 478.11 L420.15 478.23 L421.96 478.36 L423.78 478.50 L425.59 478.64 L427.40 478.80 L429.21 478.97 L431.02 479.15 L432.83 479.33 L434.65 479.53 L436.46 479.74 L438.27 479.96 L440.08 480.19 L441.89 480.43 L443.70 480.69 L445.52 480.95 L447.33 481.23 L449.14 481.52 L450.95 481.82 L452.76 482.13 L454.57 482.46 L456.38 482.80 L458.20 483.15 L460.01 483.52 L461.82 483.90 L463.63 484.30 L465.44 484.71 L467.25 485.13 L469.07 485.57 L470.88 486.02 L472.69 486.49 L474.50 486.97" fill="none" stroke="#151515" stroke-width="1.6"/>
<path d="M375.20 477.14 L377.15 477.09 L379.10 477.04 L381.05 477.00 L383.00 476.96 L384.95 476.93 L386.89 476.90 L388.84 476.88 L390.79 476.85 L392.74 476.84 L394.69 476.82 L396.64 476.81 L398.59 476.80 L400.54 476.80 L402.49 476.80 L404.44 476.80 L406.39 476.80 L408.34 476.81 L410.29 476.82 L412.23 476.83 L414.18 476.85 L416.13 476.87 L418.08 476.89 L420.03 476.91 L421.98 476.94 L423.93 476.97 L425.88 477.01 L427.83 477.05 L429.78 477.09 L431.73 477.14 L433.68 477.19 L435.63 477.25 L437.57 477.31 L439.52 477.38 L441.47 477.46 L443.42 477.54 L445.37 477.62 L447.32 477.71 L449.27 477.81 L451.22 477.92 L453.17 478.03 L455.12 478.15 L457.07 478.27 L459.02 478.40 L460.97 478.54 L462.92 478.68 L464.86 478.83 L466.81 478.99 L468.76 479.15 L470.71 479.31 L472.66 479.48 L474.61 479.65 L476.56 479.83 L478.51 480.02 L480.46 480.20 L482.41 480.39 L484.36 480.59 L486.31 480.78 L488.26 480.98 L490.20 481.19 L492.15 481.39 L494.10 481.60 L496.05 481.81 L498.00 482.02 L499.95 482.24 L501.90 482.45" fill="none" stroke="#151515" stroke-width="1.6"/>
<path d="M114.00 559.28 L115.95 558.08 L117.90 556.88 L119.85 555.70 L121.80 554.52 L123.75 553.35 L125.70 552.19 L127.64 551.03 L129.59 549.89 L131.54 548.75 L133.49 547.62 L135.44 546.50 L137.39 545.39 L139.34 544.29 L141.29 543.19 L143.24 542.10 L145.19 541.02 L147.14 539.95 L149.09 538.89 L151.04 537.84 L152.98 536.79 L154.93 535.75 L156.88 534.73 L158.83 533.71 L160.78 532.70 L162.73 531.69 L164.68 530.70 L166.63 529.72 L168.58 528.74 L170.53 527.77 L172.48 526.82 L174.43 525.87 L176.38 524.93 L178.33 524.01 L180.27 523.09 L182.22 522.19 L184.17 521.29 L186.12 520.41 L188.07 519.54 L190.02 518.68 L191.97 517.84 L193.92 517.00 L195.87 516.17 L197.82 515.36 L199.77 514.55 L201.72 513.76 L203.67 512.97 L205.61 512.19 L207.56 511.42 L209.51 510.67 L211.46 509.91 L213.41 509.17 L215.36 508.44 L217.31 507.71 L219.26 506.99 L221.21 506.28 L223.16 505.58 L225.11 504.89 L227.06 504.20 L229.01 503.53 L230.95 502.86 L232.90 502.20 L234.85 501.55 L236.80 500.91 L238.75 500.27 L240.70 499.65 L242.65 499.03 L244.60 498.42 L246.55 497.82 L248.50 497.23 L250.45 496.64 L252.40 496.07 L254.35 495.50 L256.29 494.95 L258.24 494.40 L260.19 493.86 L262.14 493.32 L264.09 492.80 L266.04 492.28 L267.99 491.78 L269.94 491.28 L271.89 490.79 L273.84 490.31 L275.79 489.84 L277.74 489.37 L279.69 488.92 L281.64 488.47 L283.58 488.03 L285.53 487.60 L287.48 487.18 L289.43 486.77 L291.38 486.37 L293.33 485.97 L295.28 485.59 L297.23 485.21 L299.18 484.84 L301.13 484.48 L303.08 484.13 L305.03 483.79 L306.98 483.45 L308.92 483.13 L310.87 482.81 L312.82 482.50 L314.77 482.20 L316.72 481.91 L318.67 481.62 L320.62 481.35 L322.57 481.08 L324.52 480.82 L326.47 480.57 L328.42 480.33 L330.37 480.10 L332.32 479.87 L334.26 479.65 L336.21 479.44 L338.16 479.24 L340.11 479.05 L342.06 478.86 L344.01 478.68 L345.96 478.51 L347.91 478.35 L349.86 478.20 L351.81 478.05 L353.76 477.92 L355.71 477.78 L357.66 477.66 L359.61 477.55 L361.55 477.44 L363.50 477.34 L365.45 477.25 L367.40 477.17 L369.35 477.09 L371.30 477.02 L373.25 476.95 L375.20 476.90 L377.15 476.84 L379.10 476.79 L381.05 476.75 L383.00 476.71 L384.95 476.68 L386.89 476.64 L388.84 476.61 L390.79 476.59 L392.74 476.56 L394.69 476.54 L396.64 476.52 L398.59 476.50 L400.54 476.48 L402.49 476.46 L404.44 476.44 L406.39 476.41 L408.34 476.39 L410.29 476.37 L412.23 476.34 L414.18 476.32 L416.13 476.29 L418.08 476.27 L420.03 476.24 L421.98 476.22 L423.93 476.19 L425.88 476.17 L427.83 476.15 L429.78 476.13 L431.73 476.11 L433.68 476.10 L435.63 476.09 L437.57 476.08 L439.52 476.07 L441.47 476.07 L443.42 476.08 L445.37 476.09 L447.32 476.10 L449.27 476.12 L451.22 476.15 L453.17 476.18 L455.12 476.22 L457.07 476.27 L459.02 476.32 L460.97 476.37 L462.92 476.44 L464.86 476.50 L466.81 476.57 L468.76 476.65 L470.71 476.73 L472.66 476.81 L474.61 476.89 L476.56 476.98 L478.51 477.07 L480.46 477.17 L482.41 477.26 L484.36 477.36 L486.31 477.45 L488.26 477.55 L490.20 477.65 L492.15 477.75 L494.10 477.85 L496.05 477.94 L498.00 478.04 L499.95 478.13 L501.90 478.23" fill="none" stroke="#151515" stroke-width="1.6"/>
<line x1="75.50" y1="463.10" x2="75.50" y2="574.70" stroke="#151515" stroke-width="1.9"/>
<line x1="519.10" y1="463.10" x2="519.10" y2="574.70" stroke="#151515" stroke-width="1.7"/>
<line x1="75.50" y1="463.90" x2="519.10" y2="463.90" stroke="#151515" stroke-width="1.6"/>
<line x1="75.50" y1="573.80" x2="519.10" y2="573.80" stroke="#151515" stroke-width="1.9"/>
<text x="504.00" y="479.40" font-size="12.8" text-anchor="start" font-weight="bold" fill="#111" stroke="#111" stroke-width="0.22" font-family="Liberation Sans, sans-serif" >A</text>
<text x="504.00" y="495.60" font-size="12.8" text-anchor="start" font-weight="bold" fill="#111" stroke="#111" stroke-width="0.22" font-family="Liberation Sans, sans-serif" >B</text>
<text x="478.40" y="495.60" font-size="12.8" text-anchor="start" font-weight="bold" fill="#111" stroke="#111" stroke-width="0.22" font-family="Liberation Sans, sans-serif" >C</text>
<text x="454.20" y="496.30" font-size="12.8" text-anchor="start" font-weight="bold" fill="#111" stroke="#111" stroke-width="0.22" font-family="Liberation Sans, sans-serif" >D</text>
<text x="454.20" y="509.30" font-size="12.8" text-anchor="start" font-weight="bold" fill="#111" stroke="#111" stroke-width="0.22" font-family="Liberation Sans, sans-serif" >E</text>
<text x="66.00" y="482.60" font-size="12.5" text-anchor="end" font-weight="normal" fill="#111" stroke="#111" stroke-width="0.22" font-family="Liberation Sans, sans-serif" >80</text>
<text x="66.00" y="510.80" font-size="12.5" text-anchor="end" font-weight="normal" fill="#111" stroke="#111" stroke-width="0.22" font-family="Liberation Sans, sans-serif" >60</text>
<text x="66.00" y="537.60" font-size="12.5" text-anchor="end" font-weight="normal" fill="#111" stroke="#111" stroke-width="0.22" font-family="Liberation Sans, sans-serif" >40</text>
<text x="66.00" y="565.50" font-size="12.5" text-anchor="end" font-weight="normal" fill="#111" stroke="#111" stroke-width="0.22" font-family="Liberation Sans, sans-serif" >20</text>
<text transform="translate(43.40 536.90) rotate(-90)" fill="#111" stroke="#111" stroke-width="0.22" font-family="Liberation Sans, sans-serif" xml:space="preserve"><tspan font-size="17" font-weight="bold" dx="0" dy="0">&#951;</tspan><tspan font-size="13.0" font-weight="normal" dx="1.7" dy="-1.0">(%)</tspan></text>
<line x1="97.50" y1="581.20" x2="97.50" y2="690.90" stroke="#262626" stroke-width="1.3"/>
<line x1="119.50" y1="581.20" x2="119.50" y2="690.90" stroke="#262626" stroke-width="1.3"/>
<line x1="142.50" y1="581.20" x2="142.50" y2="690.90" stroke="#262626" stroke-width="1.3"/>
<line x1="164.50" y1="581.20" x2="164.50" y2="690.90" stroke="#262626" stroke-width="1.3"/>
<line x1="186.50" y1="581.20" x2="186.50" y2="690.90" stroke="#262626" stroke-width="1.3"/>
<line x1="208.50" y1="581.20" x2="208.50" y2="690.90" stroke="#262626" stroke-width="1.3"/>
<line x1="230.50" y1="581.20" x2="230.50" y2="690.90" stroke="#262626" stroke-width="1.3"/>
<line x1="253.50" y1="581.20" x2="253.50" y2="690.90" stroke="#262626" stroke-width="1.3"/>
<line x1="275.50" y1="581.20" x2="275.50" y2="690.90" stroke="#262626" stroke-width="1.3"/>
<line x1="297.50" y1="581.20" x2="297.50" y2="690.90" stroke="#262626" stroke-width="1.3"/>
<line x1="319.50" y1="581.20" x2="319.50" y2="690.90" stroke="#262626" stroke-width="1.3"/>
<line x1="341.50" y1="581.20" x2="341.50" y2="690.90" stroke="#262626" stroke-width="1.3"/>
<line x1="364.50" y1="581.20" x2="364.50" y2="690.90" stroke="#262626" stroke-width="1.3"/>
<line x1="386.50" y1="581.20" x2="386.50" y2="690.90" stroke="#262626" stroke-width="1.3"/>
<line x1="408.50" y1="581.20" x2="408.50" y2="690.90" stroke="#262626" stroke-width="1.3"/>
<line x1="430.50" y1="581.20" x2="430.50" y2="690.90" stroke="#262626" stroke-width="1.3"/>
<line x1="452.50" y1="581.20" x2="452.50" y2="690.90" stroke="#262626" stroke-width="1.3"/>
<line x1="475.50" y1="581.20" x2="475.50" y2="690.90" stroke="#262626" stroke-width="1.3"/>
<line x1="497.50" y1="581.20" x2="497.50" y2="690.90" stroke="#262626" stroke-width="1.3"/>
<line x1="75.50" y1="594.50" x2="519.10" y2="594.50" stroke="#262626" stroke-width="1.2"/>
<line x1="75.50" y1="608.50" x2="519.10" y2="608.50" stroke="#262626" stroke-width="1.2"/>
<line x1="75.50" y1="622.50" x2="519.10" y2="622.50" stroke="#262626" stroke-width="1.2"/>
<line x1="75.50" y1="636.50" x2="519.10" y2="636.50" stroke="#262626" stroke-width="1.2"/>
<line x1="75.50" y1="649.50" x2="519.10" y2="649.50" stroke="#262626" stroke-width="1.2"/>
<line x1="75.50" y1="663.50" x2="519.10" y2="663.50" stroke="#262626" stroke-width="1.2"/>
<line x1="75.50" y1="677.50" x2="519.10" y2="677.50" stroke="#262626" stroke-width="1.2"/>
<rect x="435.50" y="601.60" width="12.50" height="11.40" fill="#fff"/>
<rect x="499.80" y="602.80" width="12.50" height="11.40" fill="#fff"/>
<path d="M240.30 639.24 L242.92 639.44 L245.54 639.61 L248.16 639.76 L250.78 639.87 L253.39 639.96 L256.01 640.02 L258.63 640.05 L261.25 640.07 L263.87 640.06 L266.49 640.02 L269.11 639.97 L271.73 639.90 L274.35 639.81 L276.97 639.70 L279.58 639.57 L282.20 639.43 L284.82 639.27 L287.44 639.09 L290.06 638.91 L292.68 638.70 L295.30 638.49 L297.92 638.26 L300.54 638.02 L303.16 637.78 L305.77 637.52 L308.39 637.25 L311.01 636.97 L313.63 636.69 L316.25 636.39 L318.87 636.09 L321.49 635.78 L324.11 635.47 L326.73 635.15 L329.35 634.82 L331.96 634.49 L334.58 634.16 L337.20 633.82 L339.82 633.47 L342.44 633.12 L345.06 632.77 L347.68 632.42 L350.30 632.06 L352.92 631.70 L355.54 631.34 L358.15 630.97 L360.77 630.60 L363.39 630.24 L366.01 629.86 L368.63 629.49 L371.25 629.12 L373.87 628.74 L376.49 628.36 L379.11 627.98 L381.73 627.60 L384.34 627.22 L386.96 626.83 L389.58 626.45 L392.20 626.06 L394.82 625.67 L397.44 625.27 L400.06 624.88 L402.68 624.48 L405.30 624.08 L407.92 623.67 L410.53 623.27 L413.15 622.86 L415.77 622.44 L418.39 622.02 L421.01 621.60 L423.63 621.17 L426.25 620.74 L428.87 620.30 L431.49 619.85 L434.11 619.40 L436.72 618.94 L439.34 618.47 L441.96 618.00 L444.58 617.51 L447.20 617.02" fill="none" stroke="#151515" stroke-width="1.75" stroke-linecap="butt"/>
<path d="M240.30 647.71 L243.59 647.81 L246.88 647.92 L250.17 648.03 L253.46 648.14 L256.76 648.25 L260.05 648.35 L263.34 648.46 L266.63 648.56 L269.92 648.66 L273.21 648.75 L276.50 648.84 L279.79 648.92 L283.08 649.00 L286.38 649.06 L289.67 649.12 L292.96 649.17 L296.25 649.20 L299.54 649.23 L302.83 649.25 L306.12 649.25 L309.41 649.24 L312.71 649.22 L316.00 649.18 L319.29 649.13 L322.58 649.07 L325.87 648.99 L329.16 648.89 L332.45 648.78 L335.74 648.65 L339.03 648.50 L342.33 648.34 L345.62 648.16 L348.91 647.96 L352.20 647.75 L355.49 647.51 L358.78 647.26 L362.07 646.99 L365.36 646.70 L368.65 646.39 L371.95 646.06 L375.24 645.71 L378.53 645.35 L381.82 644.96 L385.11 644.56 L388.40 644.13 L391.69 643.69 L394.98 643.22 L398.27 642.74 L401.57 642.24 L404.86 641.72 L408.15 641.18 L411.44 640.62 L414.73 640.04 L418.02 639.44 L421.31 638.83 L424.60 638.20 L427.89 637.55 L431.19 636.88 L434.48 636.19 L437.77 635.49 L441.06 634.78 L444.35 634.04 L447.64 633.29 L450.93 632.53 L454.22 631.75 L457.52 630.96 L460.81 630.16 L464.10 629.34 L467.39 628.51 L470.68 627.66 L473.97 626.81 L477.26 625.95 L480.55 625.07 L483.84 624.19 L487.14 623.30 L490.43 622.40 L493.72 621.49 L497.01 620.58 L500.30 619.66" fill="none" stroke="#151515" stroke-width="1.75" stroke-linecap="butt"/>
<line x1="75.50" y1="580.40" x2="75.50" y2="691.80" stroke="#151515" stroke-width="1.9"/>
<line x1="519.10" y1="580.40" x2="519.10" y2="691.80" stroke="#151515" stroke-width="1.7"/>
<line x1="75.50" y1="581.20" x2="519.10" y2="581.20" stroke="#151515" stroke-width="1.6"/>
<line x1="75.50" y1="690.90" x2="519.10" y2="690.90" stroke="#151515" stroke-width="1.9"/>
<text x="436.80" y="611.70" font-size="12.8" text-anchor="start" font-weight="bold" fill="#111" stroke="#111" stroke-width="0.22" font-family="Liberation Sans, sans-serif" >E</text>
<text x="501.10" y="612.90" font-size="12.8" text-anchor="start" font-weight="bold" fill="#111" stroke="#111" stroke-width="0.22" font-family="Liberation Sans, sans-serif" >A</text>
<text x="67.30" y="586.30" font-size="12.5" text-anchor="end" font-weight="normal" fill="#111" stroke="#111" stroke-width="0.22" font-family="Liberation Sans, sans-serif" >8</text>
<text x="67.30" y="611.50" font-size="12.5" text-anchor="end" font-weight="normal" fill="#111" stroke="#111" stroke-width="0.22" font-family="Liberation Sans, sans-serif" >6</text>
<text x="67.30" y="639.00" font-size="12.5" text-anchor="end" font-weight="normal" fill="#111" stroke="#111" stroke-width="0.22" font-family="Liberation Sans, sans-serif" >4</text>
<text x="67.30" y="666.50" font-size="12.5" text-anchor="end" font-weight="normal" fill="#111" stroke="#111" stroke-width="0.22" font-family="Liberation Sans, sans-serif" >2</text>
<text x="67.30" y="694.30" font-size="12.5" text-anchor="end" font-weight="normal" fill="#111" stroke="#111" stroke-width="0.22" font-family="Liberation Sans, sans-serif" >0</text>
<text transform="translate(50.30 655.60) rotate(-90)" fill="#111" stroke="#111" stroke-width="0.22" font-family="Liberation Sans, sans-serif" xml:space="preserve"><tspan font-size="16.9" font-weight="bold" dx="0" dy="0">NPSH</tspan><tspan font-size="12.0" font-weight="normal" dx="5.0" dy="0">m</tspan></text>
<line x1="519.10" y1="690.90" x2="524.50" y2="690.90" stroke="#1a1a1a" stroke-width="1.1"/>
<line x1="519.10" y1="670.05" x2="524.50" y2="670.05" stroke="#1a1a1a" stroke-width="1.1"/>
<line x1="519.10" y1="649.20" x2="524.50" y2="649.20" stroke="#1a1a1a" stroke-width="1.1"/>
<line x1="519.10" y1="628.35" x2="524.50" y2="628.35" stroke="#1a1a1a" stroke-width="1.1"/>
<line x1="519.10" y1="607.50" x2="524.50" y2="607.50" stroke="#1a1a1a" stroke-width="1.1"/>
<line x1="519.10" y1="586.65" x2="524.50" y2="586.65" stroke="#1a1a1a" stroke-width="1.1"/>
<text x="527.20" y="611.20" font-size="12.5" text-anchor="start" font-weight="normal" fill="#111" stroke="#111" stroke-width="0.22" font-family="Liberation Sans, sans-serif" letter-spacing="0.3">20</text>
<text x="527.40" y="653.20" font-size="12.5" text-anchor="start" font-weight="normal" fill="#111" stroke="#111" stroke-width="0.22" font-family="Liberation Sans, sans-serif" letter-spacing="0.3">10</text>
<text x="529.60" y="694.70" font-size="12.5" text-anchor="start" font-weight="normal" fill="#111" stroke="#111" stroke-width="0.22" font-family="Liberation Sans, sans-serif" >0</text>
<text transform="translate(561.30 656.60) rotate(-90)" fill="#111" stroke="#111" stroke-width="0.22" font-family="Liberation Sans, sans-serif" xml:space="preserve"><tspan font-size="13.3" font-weight="normal" dx="0" dy="0">NPSH ft</tspan></text>
<text x="75.80" y="707.20" font-size="12.5" text-anchor="middle" font-weight="normal" fill="#111" stroke="#111" stroke-width="0.22" font-family="Liberation Sans, sans-serif" >0</text>
<text x="186.80" y="707.20" font-size="12.5" text-anchor="middle" font-weight="normal" fill="#111" stroke="#111" stroke-width="0.22" font-family="Liberation Sans, sans-serif" >50</text>
<text x="297.80" y="707.20" font-size="12.5" text-anchor="middle" font-weight="normal" fill="#111" stroke="#111" stroke-width="0.22" font-family="Liberation Sans, sans-serif" >100</text>
<text x="409.40" y="707.20" font-size="12.5" text-anchor="middle" font-weight="normal" fill="#111" stroke="#111" stroke-width="0.22" font-family="Liberation Sans, sans-serif" >150</text>
<text x="520.90" y="707.20" font-size="12.5" text-anchor="middle" font-weight="normal" fill="#111" stroke="#111" stroke-width="0.22" font-family="Liberation Sans, sans-serif" >200</text>
<text x="92.80" y="708.00" font-size="17" text-anchor="start" font-weight="bold" fill="#111" stroke="#111" stroke-width="0.22" font-family="Liberation Sans, sans-serif" >Q</text>
<text x="109.8" y="707.2" font-size="12.8" fill="#111" stroke="#111" stroke-width="0.22" font-family="Liberation Sans, sans-serif">m<tspan font-size="7.5" dy="-4.8" stroke-width="0.1">3</tspan><tspan dy="4.8">/h</tspan></text>
</svg>
</body></html>
